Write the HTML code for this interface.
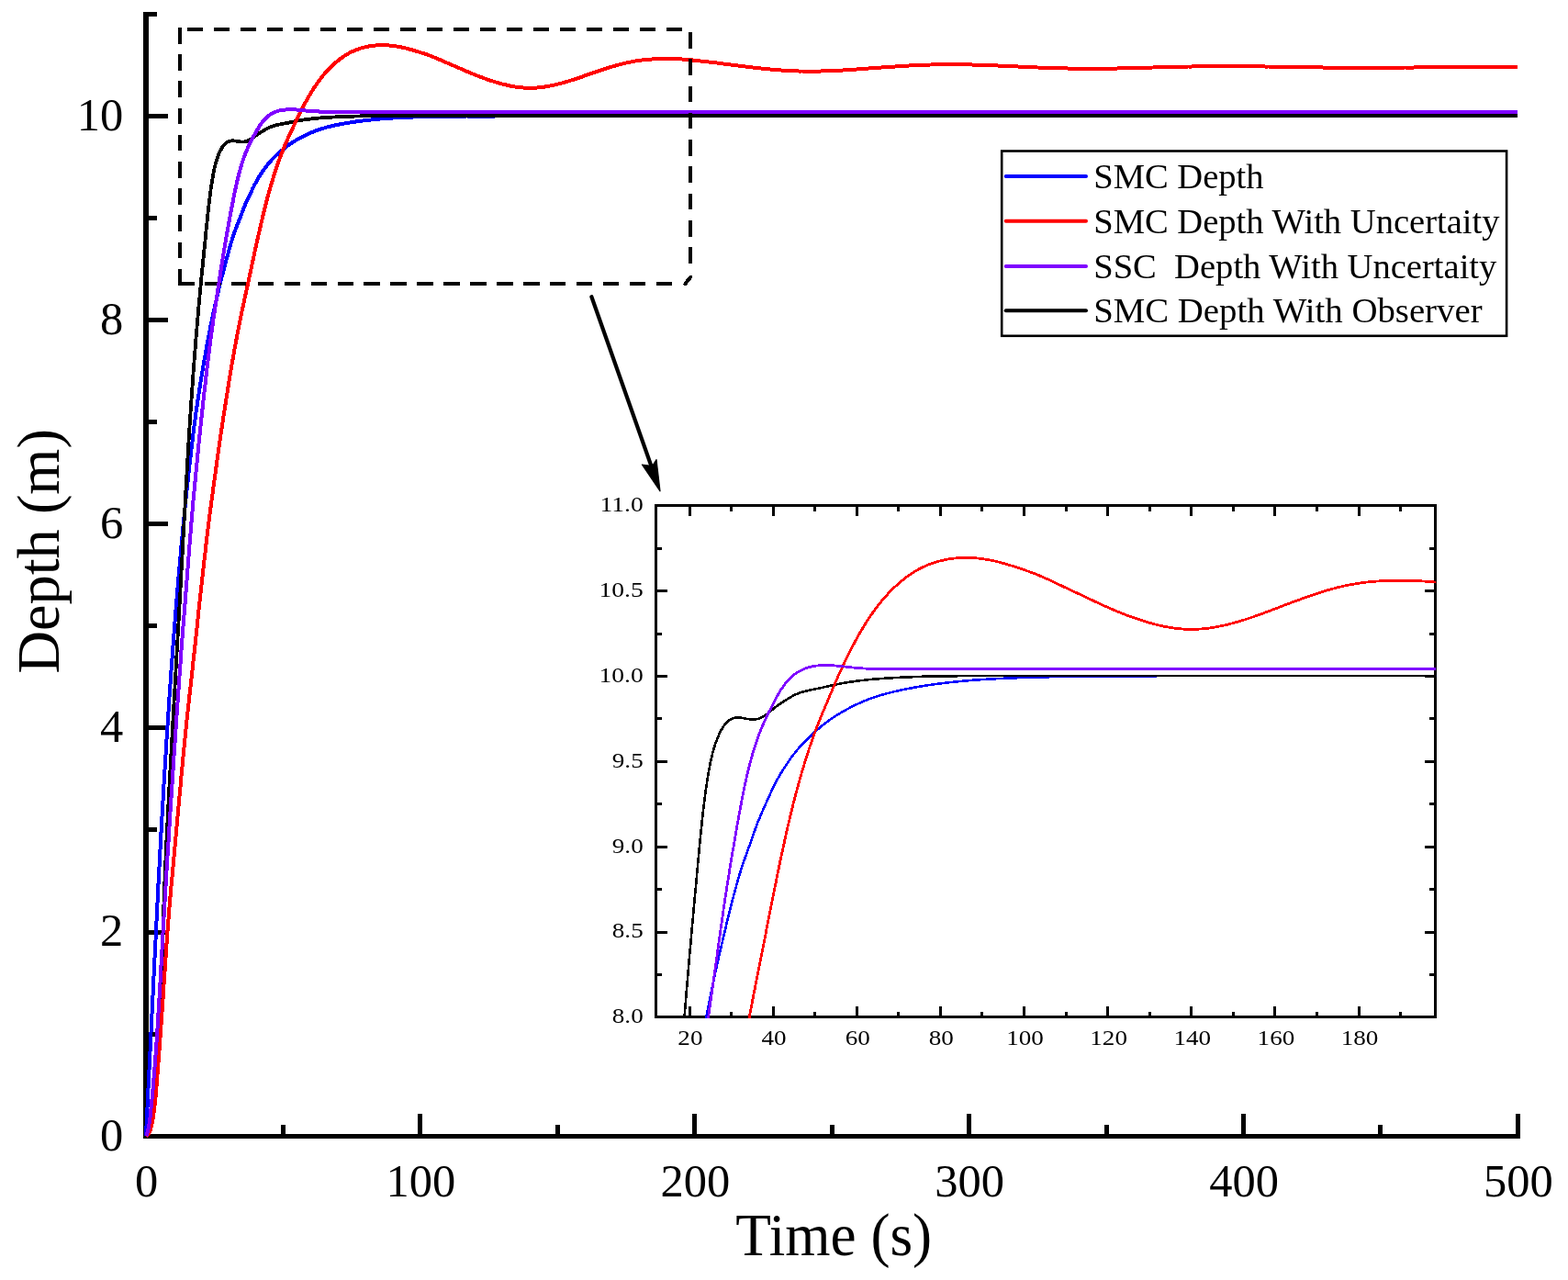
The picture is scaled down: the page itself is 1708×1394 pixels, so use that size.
<!DOCTYPE html>
<html lang="en"><head><meta charset="utf-8"><title>Depth tracking comparison</title>
<style>html,body{margin:0;padding:0;background:#fff}svg{display:block}text{font-family:"Liberation Serif",serif;fill:#000}</style></head><body>
<svg width="1708" height="1394" viewBox="0 0 1708 1394">
<rect width="1708" height="1394" fill="#fff"/>
<g stroke="#000" stroke-width="5" fill="none" stroke-linecap="butt" shape-rendering="crispEdges">
<path d="M159,13 V1240" stroke-width="6"/>
<path d="M156,1237.5 H1656"/>
<path d="M159,1126.5 h12 M159,1015.5 h24 M159,903.5 h12 M159,792.5 h24 M159,681.5 h12 M159,570.5 h24 M159,459.5 h12 M159,348.5 h24 M159,237.5 h12 M159,126.5 h24 M159,15.5 h12 M308.5,1237.5 v-12.5 M457.5,1237.5 v-24.5 M607.5,1237.5 v-12.5 M756.5,1237.5 v-24.5 M906.5,1237.5 v-12.5 M1055.5,1237.5 v-24.5 M1205.5,1237.5 v-12.5 M1354.5,1237.5 v-24.5 M1503.5,1237.5 v-12.5 M1653.5,1237.5 v-24.5"/>
</g>
<g font-size="50.5" text-anchor="end">
<text x="134.2" y="1252.6">0</text>
<text x="134.2" y="1030.4">2</text>
<text x="134.2" y="808.3">4</text>
<text x="134.2" y="586.1">6</text>
<text x="134.2" y="364.0">8</text>
<text x="134.2" y="141.8">10</text>
</g>
<g font-size="50.5" text-anchor="middle">
<text x="159.6" y="1303.3">0</text>
<text x="458.4" y="1303.3">100</text>
<text x="757.3" y="1303.3">200</text>
<text x="1056.1" y="1303.3">300</text>
<text x="1355.0" y="1303.3">400</text>
<text x="1653.8" y="1303.3">500</text>
</g>
<text id="xt" x="801.2" y="1367" font-size="66" textLength="214" lengthAdjust="spacingAndGlyphs">Time (s)</text>
<text id="yt" transform="translate(63.8,733.6) rotate(-90)" font-size="65" textLength="266.5" lengthAdjust="spacingAndGlyphs">Depth (m)</text>
<path fill="none" stroke-linejoin="round" shape-rendering="crispEdges" stroke="#0000ff" stroke-width="4" d="M159.0,1237.2 L159.7,1221.9 L160.5,1206.7 L161.2,1191.4 L162.0,1176.1 L162.7,1160.8 L163.5,1145.6 L164.2,1130.3 L165.0,1115.0 L165.7,1099.7 L166.5,1084.4 L167.2,1069.2 L168.0,1054.0 L168.7,1038.9 L169.5,1023.8 L170.2,1008.9 L171.0,994.1 L171.7,979.3 L172.4,964.7 L173.2,950.2 L173.9,936.0 L174.7,922.0 L175.4,908.3 L176.2,894.9 L176.9,881.7 L177.7,868.7 L178.4,855.9 L179.2,843.3 L179.9,831.0 L180.7,818.9 L181.4,806.9 L182.2,795.2 L182.9,783.7 L183.7,772.4 L184.4,761.3 L185.1,750.4 L185.9,739.6 L186.6,729.1 L187.4,718.7 L188.1,708.5 L188.9,698.5 L189.6,688.6 L190.4,679.0 L191.1,669.5 L191.9,660.1 L192.6,650.9 L193.4,641.9 L194.1,633.0 L194.9,624.3 L195.6,615.7 L196.4,607.3 L197.1,599.0 L197.8,590.9 L198.6,582.9 L199.3,575.0 L200.1,567.3 L200.8,559.7 L201.6,552.3 L202.3,544.9 L203.1,537.7 L203.8,530.7 L204.6,523.7 L205.3,516.9 L206.1,510.1 L206.8,503.5 L207.6,497.1 L208.3,490.7 L209.1,484.4 L209.8,478.2 L210.5,472.1 L211.3,466.1 L212.0,460.3 L212.8,454.7 L213.5,449.3 L214.3,444.0 L215.0,438.9 L215.8,433.8 L216.5,428.9 L217.3,424.0 L218.0,419.3 L218.8,414.7 L219.5,410.1 L220.3,405.6 L221.0,401.1 L221.8,396.7 L222.5,392.4 L223.3,388.1 L224.0,383.9 L224.7,379.7 L225.5,375.6 L226.2,371.6 L227.0,367.6 L227.7,363.7 L228.5,359.9 L229.2,356.1 L230.0,352.4 L230.7,348.8 L231.5,345.3 L232.2,341.8 L233.0,338.3 L233.7,334.9 L234.5,331.6 L235.2,328.3 L236.0,325.1 L236.7,321.9 L237.4,318.7 L238.2,315.6 L238.9,312.5 L239.7,309.5 L240.4,306.5 L241.2,303.5 L241.9,300.6 L242.7,297.7 L243.4,294.8 L244.2,292.0 L244.9,289.1 L245.7,286.3 L246.4,283.6 L247.2,280.8 L247.9,278.1 L248.7,275.4 L249.4,272.7 L250.1,270.1 L250.9,267.5 L251.6,264.9 L252.4,262.5 L253.1,260.0 L253.9,257.7 L254.6,255.4 L255.4,253.2 L256.1,251.0 L256.9,249.0 L257.6,247.0 L258.4,245.0 L259.1,243.2 L259.9,241.3 L260.6,239.4 L261.4,237.5 L262.1,235.6 L262.8,233.7 L263.6,231.7 L264.3,229.7 L265.1,227.8 L265.8,225.8 L266.6,224.0 L267.3,222.2 L268.1,220.4 L268.8,218.8 L269.6,217.1 L270.3,215.6 L271.1,214.0 L271.8,212.5 L272.6,210.9 L273.3,209.4 L274.1,207.9 L274.8,206.4 L275.5,204.9 L276.3,203.4 L277.0,201.9 L277.8,200.4 L278.5,199.0 L279.3,197.6 L280.0,196.2 L280.8,194.9 L281.5,193.6 L282.3,192.4 L283.0,191.2 L283.8,190.1 L284.5,189.0 L285.3,187.9 L286.0,186.8 L286.8,185.7 L287.5,184.7 L288.2,183.7 L289.0,182.6 L289.7,181.6 L290.5,180.7 L291.2,179.7 L292.0,178.8 L292.7,177.9 L293.5,177.0 L294.2,176.1 L295.0,175.3 L295.7,174.5 L296.5,173.6 L297.2,172.9 L298.0,172.1 L298.7,171.3 L299.5,170.6 L300.2,169.9 L300.9,169.2 L301.7,168.5 L302.4,167.8 L303.2,167.1 L303.9,166.5 L304.7,165.8 L305.4,165.2 L306.2,164.5 L306.9,163.9 L307.7,163.3 L308.4,162.6 L309.2,162.0 L309.9,161.4 L310.7,160.8 L311.4,160.2 L312.2,159.7 L312.9,159.1 L313.6,158.5 L314.4,158.0 L315.1,157.4 L315.9,156.9 L316.6,156.4 L317.4,155.9 L318.1,155.4 L318.9,154.9 L319.6,154.4 L320.4,153.9 L321.1,153.5 L321.9,153.0 L322.6,152.6 L323.4,152.1 L324.1,151.7 L324.9,151.3 L325.6,150.9 L326.4,150.5 L327.1,150.1 L327.8,149.7 L328.6,149.3 L329.3,148.9 L330.1,148.5 L330.8,148.2 L331.6,147.8 L332.3,147.4 L333.1,147.1 L333.8,146.7 L334.6,146.4 L335.3,146.0 L336.1,145.7 L336.8,145.3 L337.6,145.0 L338.3,144.7 L339.1,144.4 L339.8,144.1 L340.5,143.8 L341.3,143.5 L342.0,143.2 L342.8,142.9 L343.5,142.6 L344.3,142.3 L345.0,142.0 L345.8,141.8 L346.5,141.5 L347.3,141.2 L348.0,141.0 L348.8,140.7 L349.5,140.5 L350.3,140.3 L351.0,140.0 L351.8,139.8 L352.5,139.6 L353.2,139.4 L354.0,139.1 L354.7,138.9 L355.5,138.7 L356.2,138.5 L357.0,138.3 L357.7,138.1 L358.5,137.9 L359.2,137.8 L360.0,137.6 L360.7,137.4 L361.5,137.2 L362.2,137.0 L363.0,136.9 L363.7,136.7 L364.5,136.5 L365.2,136.4 L365.9,136.2 L366.7,136.1 L367.4,135.9 L368.2,135.8 L371.2,135.2 L374.2,134.6 L377.2,134.1 L380.1,133.6 L383.1,133.1 L386.1,132.7 L389.1,132.3 L392.1,131.9 L395.1,131.5 L398.1,131.1 L401.1,130.8 L404.0,130.5 L407.0,130.1 L410.0,129.9 L413.0,129.6 L416.0,129.3 L419.0,129.1 L422.0,128.9 L425.0,128.7 L428.0,128.5 L430.9,128.4 L433.9,128.2 L436.9,128.1 L439.9,127.9 L442.9,127.8 L445.9,127.7 L448.9,127.6 L451.9,127.4 L454.9,127.3 L457.8,127.2 L460.8,127.1 L463.8,127.1 L466.8,127.0 L469.8,126.9 L472.8,126.9 L475.8,126.8 L478.8,126.8 L481.7,126.7 L484.7,126.7 L487.7,126.7 L490.7,126.7 L493.7,126.6 L496.7,126.6 L499.7,126.6 L502.7,126.6 L505.7,126.6 L508.6,126.5 L511.6,126.5 L514.6,126.5 L517.6,126.5 L520.6,126.5 L523.6,126.5 L526.6,126.5 L529.6,126.5 L532.5,126.5 L535.5,126.5 L538.5,126.5 L541.5,126.4 L544.5,126.4 L547.5,126.4 L550.5,126.4 L553.5,126.4 L556.5,126.4 L559.4,126.4 L562.4,126.4 L565.4,126.4 L568.4,126.4 L571.4,126.4 L574.4,126.4 L577.4,126.4 L580.4,126.4 L583.4,126.4 L586.3,126.4 L589.3,126.4 L592.3,126.4 L595.3,126.4 L598.3,126.4 L601.3,126.4 L604.3,126.4 L607.3,126.4 L610.2,126.4 L613.2,126.4 L616.2,126.4 L619.2,126.4 L622.2,126.4 L625.2,126.4 L628.2,126.4 L631.2,126.4 L634.2,126.4 L637.1,126.4 L640.1,126.4 L643.1,126.4 L646.1,126.4 L649.1,126.4 L652.1,126.4 L655.1,126.4 L658.1,126.4 L661.1,126.4 L664.0,126.4 L667.0,126.4 L670.0,126.4 L673.0,126.4 L676.0,126.4 L679.0,126.4 L682.0,126.4 L685.0,126.4 L687.9,126.4 L690.9,126.4 L693.9,126.4 L696.9,126.4 L699.9,126.4 L702.9,126.4 L705.9,126.4 L708.9,126.4 L711.9,126.4 L714.8,126.4 L717.8,126.4 L720.8,126.4 L723.8,126.4 L726.8,126.4 L729.8,126.4 L732.8,126.4 L735.8,126.4 L738.7,126.4 L741.7,126.4 L744.7,126.4 L747.7,126.4 L750.7,126.4 L753.7,126.4 L756.7,126.4 L759.7,126.4 L762.7,126.4 L765.6,126.4 L768.6,126.4 L771.6,126.4 L774.6,126.4 L777.6,126.4 L780.6,126.4 L783.6,126.4 L786.6,126.4 L789.6,126.4 L792.5,126.4 L795.5,126.4 L798.5,126.4 L801.5,126.4 L804.5,126.4 L807.5,126.4 L810.5,126.4 L813.5,126.4 L816.4,126.4 L819.4,126.4 L822.4,126.4 L825.4,126.4 L828.4,126.4 L831.4,126.4 L834.4,126.4 L837.4,126.4 L840.4,126.4 L843.3,126.4 L846.3,126.4 L849.3,126.4 L852.3,126.4 L855.3,126.4 L858.3,126.4 L861.3,126.4 L864.3,126.4 L867.3,126.4 L870.2,126.4 L873.2,126.4 L876.2,126.4 L879.2,126.4 L882.2,126.4 L885.2,126.4 L888.2,126.4 L891.2,126.4 L894.1,126.4 L897.1,126.4 L900.1,126.4 L903.1,126.4 L906.1,126.4 L909.1,126.4 L912.1,126.4 L915.1,126.4 L918.1,126.4 L921.0,126.4 L924.0,126.4 L927.0,126.4 L930.0,126.4 L933.0,126.4 L936.0,126.4 L939.0,126.4 L942.0,126.4 L944.9,126.4 L947.9,126.4 L950.9,126.4 L953.9,126.4 L956.9,126.4 L959.9,126.4 L962.9,126.4 L965.9,126.4 L968.9,126.4 L971.8,126.4 L974.8,126.4 L977.8,126.4 L980.8,126.4 L983.8,126.4 L986.8,126.4 L989.8,126.4 L992.8,126.4 L995.8,126.4 L998.7,126.4 L1001.7,126.4 L1004.7,126.4 L1007.7,126.4 L1010.7,126.4 L1013.7,126.4 L1016.7,126.4 L1019.7,126.4 L1022.6,126.4 L1025.6,126.4 L1028.6,126.4 L1031.6,126.4 L1034.6,126.4 L1037.6,126.4 L1040.6,126.4 L1043.6,126.4 L1046.6,126.4 L1049.5,126.4 L1052.5,126.4 L1055.5,126.4 L1058.5,126.4 L1061.5,126.4 L1064.5,126.4 L1067.5,126.4 L1070.5,126.4 L1073.5,126.4 L1076.4,126.4 L1079.4,126.4 L1082.4,126.4 L1085.4,126.4 L1088.4,126.4 L1091.4,126.4 L1094.4,126.4 L1097.4,126.4 L1100.3,126.4 L1103.3,126.4 L1106.3,126.4 L1109.3,126.4 L1112.3,126.4 L1115.3,126.4 L1118.3,126.4 L1121.3,126.4 L1124.3,126.4 L1127.2,126.4 L1130.2,126.4 L1133.2,126.4 L1136.2,126.4 L1139.2,126.4 L1142.2,126.4 L1145.2,126.4 L1148.2,126.4 L1151.1,126.4 L1154.1,126.4 L1157.1,126.4 L1160.1,126.4 L1163.1,126.4 L1166.1,126.4 L1169.1,126.4 L1172.1,126.4 L1175.1,126.4 L1178.0,126.4 L1181.0,126.4 L1184.0,126.4 L1187.0,126.4 L1190.0,126.4 L1193.0,126.4 L1196.0,126.4 L1199.0,126.4 L1202.0,126.4 L1204.9,126.4 L1207.9,126.4 L1210.9,126.4 L1213.9,126.4 L1216.9,126.4 L1219.9,126.4 L1222.9,126.4 L1225.9,126.4 L1228.8,126.4 L1231.8,126.4 L1234.8,126.4 L1237.8,126.4 L1240.8,126.4 L1243.8,126.4 L1246.8,126.4 L1249.8,126.4 L1252.8,126.4 L1255.7,126.4 L1258.7,126.4 L1261.7,126.4 L1264.7,126.4 L1267.7,126.4 L1270.7,126.4 L1273.7,126.4 L1276.7,126.4 L1279.7,126.4 L1282.6,126.4 L1285.6,126.4 L1288.6,126.4 L1291.6,126.4 L1294.6,126.4 L1297.6,126.4 L1300.6,126.4 L1303.6,126.4 L1306.5,126.4 L1309.5,126.4 L1312.5,126.4 L1315.5,126.4 L1318.5,126.4 L1321.5,126.4 L1324.5,126.4 L1327.5,126.4 L1330.5,126.4 L1333.4,126.4 L1336.4,126.4 L1339.4,126.4 L1342.4,126.4 L1345.4,126.4 L1348.4,126.4 L1351.4,126.4 L1354.4,126.4 L1357.3,126.4 L1360.3,126.4 L1363.3,126.4 L1366.3,126.4 L1369.3,126.4 L1372.3,126.4 L1375.3,126.4 L1378.3,126.4 L1381.3,126.4 L1384.2,126.4 L1387.2,126.4 L1390.2,126.4 L1393.2,126.4 L1396.2,126.4 L1399.2,126.4 L1402.2,126.4 L1405.2,126.4 L1408.2,126.4 L1411.1,126.4 L1414.1,126.4 L1417.1,126.4 L1420.1,126.4 L1423.1,126.4 L1426.1,126.4 L1429.1,126.4 L1432.1,126.4 L1435.0,126.4 L1438.0,126.4 L1441.0,126.4 L1444.0,126.4 L1447.0,126.4 L1450.0,126.4 L1453.0,126.4 L1456.0,126.4 L1459.0,126.4 L1461.9,126.4 L1464.9,126.4 L1467.9,126.4 L1470.9,126.4 L1473.9,126.4 L1476.9,126.4 L1479.9,126.4 L1482.9,126.4 L1485.8,126.4 L1488.8,126.4 L1491.8,126.4 L1494.8,126.4 L1497.8,126.4 L1500.8,126.4 L1503.8,126.4 L1506.8,126.4 L1509.8,126.4 L1512.7,126.4 L1515.7,126.4 L1518.7,126.4 L1521.7,126.4 L1524.7,126.4 L1527.7,126.4 L1530.7,126.4 L1533.7,126.4 L1536.7,126.4 L1539.6,126.4 L1542.6,126.4 L1545.6,126.4 L1548.6,126.4 L1551.6,126.4 L1554.6,126.4 L1557.6,126.4 L1560.6,126.4 L1563.5,126.4 L1566.5,126.4 L1569.5,126.4 L1572.5,126.4 L1575.5,126.4 L1578.5,126.4 L1581.5,126.4 L1584.5,126.4 L1587.5,126.4 L1590.4,126.4 L1593.4,126.4 L1596.4,126.4 L1599.4,126.4 L1602.4,126.4 L1605.4,126.4 L1608.4,126.4 L1611.4,126.4 L1614.4,126.4 L1617.3,126.4 L1620.3,126.4 L1623.3,126.4 L1626.3,126.4 L1629.3,126.4 L1632.3,126.4 L1635.3,126.4 L1638.3,126.4 L1641.2,126.4 L1644.2,126.4 L1647.2,126.4 L1650.2,126.4 L1653.2,126.4"/>
<g stroke="#000" stroke-width="4" fill="none" shape-rendering="crispEdges">
<path d="M196,30 V311" stroke-dasharray="17.6 11.6"/>
<path d="M194,309 H733" stroke-dasharray="17.6 11.32"/>
</g>
<path fill="none" stroke-linejoin="round" shape-rendering="crispEdges" stroke="#000000" stroke-width="3.8" d="M159.0,1237.2 L159.7,1236.6 L160.5,1235.8 L161.2,1234.6 L162.0,1233.0 L162.7,1231.1 L163.5,1228.9 L164.2,1226.2 L165.0,1222.8 L165.7,1218.5 L166.5,1213.3 L167.2,1207.0 L168.0,1199.1 L168.7,1189.4 L169.5,1178.2 L170.2,1166.3 L171.0,1155.0 L171.7,1144.7 L172.4,1135.0 L173.2,1125.1 L173.9,1113.3 L174.7,1098.3 L175.4,1079.3 L176.2,1056.5 L176.9,1031.9 L177.7,1007.4 L178.4,985.1 L179.2,965.2 L179.9,947.4 L180.7,930.8 L181.4,915.0 L182.2,899.9 L182.9,885.3 L183.7,871.2 L184.4,857.5 L185.1,843.9 L185.9,830.5 L186.6,817.1 L187.4,803.7 L188.1,790.2 L188.9,776.7 L189.6,763.3 L190.4,750.0 L191.1,736.8 L191.9,723.7 L192.6,710.5 L193.4,697.4 L194.1,684.3 L194.9,671.2 L195.6,658.0 L196.4,644.8 L197.1,631.4 L197.8,617.8 L198.6,604.2 L199.3,590.5 L200.1,576.8 L200.8,563.2 L201.6,549.5 L202.3,536.0 L203.1,522.6 L203.8,509.4 L204.6,496.5 L205.3,484.0 L206.1,471.7 L206.8,460.0 L207.6,448.6 L208.3,437.7 L209.1,427.0 L209.8,416.7 L210.5,406.5 L211.3,396.7 L212.0,387.0 L212.8,377.6 L213.5,368.3 L214.3,359.3 L215.0,350.4 L215.8,341.7 L216.5,333.2 L217.3,324.9 L218.0,316.8 L218.8,309.2 L219.5,301.4 L220.3,293.8 L221.0,286.3 L221.8,278.8 L222.5,271.4 L223.3,263.9 L224.0,256.5 L224.7,249.1 L225.5,241.8 L226.2,234.7 L227.0,227.7 L227.7,221.1 L228.5,214.9 L229.2,209.1 L230.0,203.7 L230.7,198.7 L231.5,194.2 L232.2,190.0 L233.0,186.2 L233.7,182.8 L234.5,179.6 L235.2,176.8 L236.0,174.3 L236.7,172.1 L237.4,170.0 L238.2,168.2 L238.9,166.4 L239.7,164.8 L240.4,163.4 L241.2,162.0 L241.9,160.7 L242.7,159.6 L243.4,158.6 L244.2,157.7 L244.9,156.9 L245.7,156.2 L246.4,155.5 L247.2,155.0 L247.9,154.6 L248.7,154.2 L249.4,153.9 L250.1,153.7 L250.9,153.5 L251.6,153.4 L252.4,153.4 L253.1,153.3 L253.9,153.3 L254.6,153.4 L255.4,153.5 L256.1,153.5 L256.9,153.6 L257.6,153.8 L258.4,153.9 L259.1,154.0 L259.9,154.1 L260.6,154.3 L261.4,154.3 L262.1,154.4 L262.8,154.5 L263.6,154.5 L264.3,154.5 L265.1,154.5 L265.8,154.4 L266.6,154.4 L267.3,154.2 L268.1,154.1 L268.8,153.8 L269.6,153.6 L270.3,153.2 L271.1,152.9 L271.8,152.5 L272.6,152.0 L273.3,151.5 L274.1,151.0 L274.8,150.5 L275.5,149.9 L276.3,149.4 L277.0,148.8 L277.8,148.3 L278.5,147.7 L279.3,147.2 L280.0,146.7 L280.8,146.1 L281.5,145.6 L282.3,145.1 L283.0,144.7 L283.8,144.2 L284.5,143.8 L285.3,143.3 L286.0,142.9 L286.8,142.4 L287.5,142.0 L288.2,141.5 L289.0,141.1 L289.7,140.7 L290.5,140.3 L291.2,139.9 L292.0,139.5 L292.7,139.1 L293.5,138.8 L294.2,138.4 L295.0,138.1 L295.7,137.8 L296.5,137.5 L297.2,137.3 L298.0,137.0 L298.7,136.8 L299.5,136.6 L300.2,136.4 L300.9,136.3 L301.7,136.1 L302.4,135.9 L303.2,135.8 L303.9,135.6 L304.7,135.5 L305.4,135.3 L306.2,135.2 L306.9,135.1 L307.7,134.9 L308.4,134.8 L309.2,134.6 L309.9,134.5 L310.7,134.4 L311.4,134.2 L312.2,134.1 L312.9,133.9 L313.6,133.8 L314.4,133.6 L315.1,133.5 L315.9,133.3 L316.6,133.1 L317.4,133.0 L318.1,132.8 L318.9,132.7 L319.6,132.5 L320.4,132.4 L321.1,132.2 L321.9,132.0 L322.6,131.9 L323.4,131.8 L324.1,131.6 L324.9,131.5 L325.6,131.3 L326.4,131.3 L327.1,131.1 L327.8,131.0 L328.6,130.9 L329.3,130.8 L330.1,130.6 L330.8,130.5 L331.6,130.4 L332.3,130.3 L333.1,130.2 L333.8,130.1 L334.6,130.0 L335.3,129.9 L336.1,129.8 L336.8,129.7 L337.6,129.6 L338.3,129.5 L339.1,129.4 L339.8,129.3 L340.5,129.3 L341.3,129.2 L342.0,129.1 L342.8,129.0 L343.5,128.9 L344.3,128.9 L345.0,128.8 L345.8,128.7 L346.5,128.6 L347.3,128.6 L348.0,128.5 L348.8,128.5 L349.5,128.4 L350.3,128.3 L351.0,128.3 L351.8,128.2 L352.5,128.1 L353.2,128.1 L354.0,128.0 L354.7,128.0 L355.5,127.9 L356.2,127.9 L357.0,127.8 L357.7,127.8 L358.5,127.7 L359.2,127.7 L360.0,127.7 L360.7,127.6 L361.5,127.6 L362.2,127.5 L363.0,127.5 L363.7,127.4 L364.5,127.4 L365.2,127.4 L365.9,127.3 L366.7,127.3 L367.4,127.3 L368.2,127.2 L371.2,127.1 L374.2,127.0 L377.2,126.9 L380.1,126.8 L383.1,126.7 L386.1,126.6 L389.1,126.5 L392.1,126.4 L395.1,126.3 L398.1,126.3 L401.1,126.2 L404.0,126.2 L407.0,126.1 L410.0,126.1 L413.0,126.1 L416.0,126.0 L419.0,126.0 L422.0,125.9 L425.0,125.9 L428.0,125.9 L430.9,125.8 L433.9,125.8 L436.9,125.8 L439.9,125.8 L442.9,125.8 L445.9,125.7 L448.9,125.7 L451.9,125.7 L454.9,125.7 L457.8,125.7 L460.8,125.7 L463.8,125.7 L466.8,125.7 L469.8,125.7 L472.8,125.7 L475.8,125.7 L478.8,125.7 L481.7,125.7 L484.7,125.7 L487.7,125.7 L490.7,125.7 L493.7,125.7 L496.7,125.7 L499.7,125.7 L502.7,125.7 L505.7,125.7 L508.6,125.7 L511.6,125.7 L514.6,125.7 L517.6,125.7 L520.6,125.7 L523.6,125.7 L526.6,125.7 L529.6,125.7 L532.5,125.7 L535.5,125.7 L538.5,125.7 L541.5,125.7 L544.5,125.7 L547.5,125.7 L550.5,125.7 L553.5,125.7 L556.5,125.7 L559.4,125.7 L562.4,125.7 L565.4,125.7 L568.4,125.7 L571.4,125.7 L574.4,125.7 L577.4,125.7 L580.4,125.7 L583.4,125.7 L586.3,125.7 L589.3,125.7 L592.3,125.7 L595.3,125.7 L598.3,125.7 L601.3,125.7 L604.3,125.7 L607.3,125.7 L610.2,125.7 L613.2,125.7 L616.2,125.7 L619.2,125.7 L622.2,125.7 L625.2,125.7 L628.2,125.7 L631.2,125.7 L634.2,125.7 L637.1,125.7 L640.1,125.7 L643.1,125.7 L646.1,125.7 L649.1,125.7 L652.1,125.7 L655.1,125.7 L658.1,125.7 L661.1,125.7 L664.0,125.7 L667.0,125.7 L670.0,125.7 L673.0,125.7 L676.0,125.7 L679.0,125.7 L682.0,125.7 L685.0,125.7 L687.9,125.7 L690.9,125.7 L693.9,125.7 L696.9,125.7 L699.9,125.7 L702.9,125.7 L705.9,125.7 L708.9,125.7 L711.9,125.7 L714.8,125.7 L717.8,125.7 L720.8,125.7 L723.8,125.7 L726.8,125.7 L729.8,125.7 L732.8,125.7 L735.8,125.7 L738.7,125.7 L741.7,125.7 L744.7,125.7 L747.7,125.7 L750.7,125.7 L753.7,125.7 L756.7,125.7 L759.7,125.7 L762.7,125.7 L765.6,125.7 L768.6,125.7 L771.6,125.7 L774.6,125.7 L777.6,125.7 L780.6,125.7 L783.6,125.7 L786.6,125.7 L789.6,125.7 L792.5,125.7 L795.5,125.7 L798.5,125.7 L801.5,125.7 L804.5,125.7 L807.5,125.7 L810.5,125.7 L813.5,125.7 L816.4,125.7 L819.4,125.7 L822.4,125.7 L825.4,125.7 L828.4,125.7 L831.4,125.7 L834.4,125.7 L837.4,125.7 L840.4,125.7 L843.3,125.7 L846.3,125.7 L849.3,125.7 L852.3,125.7 L855.3,125.7 L858.3,125.7 L861.3,125.7 L864.3,125.7 L867.3,125.7 L870.2,125.7 L873.2,125.7 L876.2,125.7 L879.2,125.7 L882.2,125.7 L885.2,125.7 L888.2,125.7 L891.2,125.7 L894.1,125.7 L897.1,125.7 L900.1,125.7 L903.1,125.7 L906.1,125.7 L909.1,125.7 L912.1,125.7 L915.1,125.7 L918.1,125.7 L921.0,125.7 L924.0,125.7 L927.0,125.7 L930.0,125.7 L933.0,125.7 L936.0,125.7 L939.0,125.7 L942.0,125.7 L944.9,125.7 L947.9,125.7 L950.9,125.7 L953.9,125.7 L956.9,125.7 L959.9,125.7 L962.9,125.7 L965.9,125.7 L968.9,125.7 L971.8,125.7 L974.8,125.7 L977.8,125.7 L980.8,125.7 L983.8,125.7 L986.8,125.7 L989.8,125.7 L992.8,125.7 L995.8,125.7 L998.7,125.7 L1001.7,125.7 L1004.7,125.7 L1007.7,125.7 L1010.7,125.7 L1013.7,125.7 L1016.7,125.7 L1019.7,125.7 L1022.6,125.7 L1025.6,125.7 L1028.6,125.7 L1031.6,125.7 L1034.6,125.7 L1037.6,125.7 L1040.6,125.7 L1043.6,125.7 L1046.6,125.7 L1049.5,125.7 L1052.5,125.7 L1055.5,125.7 L1058.5,125.7 L1061.5,125.7 L1064.5,125.7 L1067.5,125.7 L1070.5,125.7 L1073.5,125.7 L1076.4,125.7 L1079.4,125.7 L1082.4,125.7 L1085.4,125.7 L1088.4,125.7 L1091.4,125.7 L1094.4,125.7 L1097.4,125.7 L1100.3,125.7 L1103.3,125.7 L1106.3,125.7 L1109.3,125.7 L1112.3,125.7 L1115.3,125.7 L1118.3,125.7 L1121.3,125.7 L1124.3,125.7 L1127.2,125.7 L1130.2,125.7 L1133.2,125.7 L1136.2,125.7 L1139.2,125.7 L1142.2,125.7 L1145.2,125.7 L1148.2,125.7 L1151.1,125.7 L1154.1,125.7 L1157.1,125.7 L1160.1,125.7 L1163.1,125.7 L1166.1,125.7 L1169.1,125.7 L1172.1,125.7 L1175.1,125.7 L1178.0,125.7 L1181.0,125.7 L1184.0,125.7 L1187.0,125.7 L1190.0,125.7 L1193.0,125.7 L1196.0,125.7 L1199.0,125.7 L1202.0,125.7 L1204.9,125.7 L1207.9,125.7 L1210.9,125.7 L1213.9,125.7 L1216.9,125.7 L1219.9,125.7 L1222.9,125.7 L1225.9,125.7 L1228.8,125.7 L1231.8,125.7 L1234.8,125.7 L1237.8,125.7 L1240.8,125.7 L1243.8,125.7 L1246.8,125.7 L1249.8,125.7 L1252.8,125.7 L1255.7,125.7 L1258.7,125.7 L1261.7,125.7 L1264.7,125.7 L1267.7,125.7 L1270.7,125.7 L1273.7,125.7 L1276.7,125.7 L1279.7,125.7 L1282.6,125.7 L1285.6,125.7 L1288.6,125.7 L1291.6,125.7 L1294.6,125.7 L1297.6,125.7 L1300.6,125.7 L1303.6,125.7 L1306.5,125.7 L1309.5,125.7 L1312.5,125.7 L1315.5,125.7 L1318.5,125.7 L1321.5,125.7 L1324.5,125.7 L1327.5,125.7 L1330.5,125.7 L1333.4,125.7 L1336.4,125.7 L1339.4,125.7 L1342.4,125.7 L1345.4,125.7 L1348.4,125.7 L1351.4,125.7 L1354.4,125.7 L1357.3,125.7 L1360.3,125.7 L1363.3,125.7 L1366.3,125.7 L1369.3,125.7 L1372.3,125.7 L1375.3,125.7 L1378.3,125.7 L1381.3,125.7 L1384.2,125.7 L1387.2,125.7 L1390.2,125.7 L1393.2,125.7 L1396.2,125.7 L1399.2,125.7 L1402.2,125.7 L1405.2,125.7 L1408.2,125.7 L1411.1,125.7 L1414.1,125.7 L1417.1,125.7 L1420.1,125.7 L1423.1,125.7 L1426.1,125.7 L1429.1,125.7 L1432.1,125.7 L1435.0,125.7 L1438.0,125.7 L1441.0,125.7 L1444.0,125.7 L1447.0,125.7 L1450.0,125.7 L1453.0,125.7 L1456.0,125.7 L1459.0,125.7 L1461.9,125.7 L1464.9,125.7 L1467.9,125.7 L1470.9,125.7 L1473.9,125.7 L1476.9,125.7 L1479.9,125.7 L1482.9,125.7 L1485.8,125.7 L1488.8,125.7 L1491.8,125.7 L1494.8,125.7 L1497.8,125.7 L1500.8,125.7 L1503.8,125.7 L1506.8,125.7 L1509.8,125.7 L1512.7,125.7 L1515.7,125.7 L1518.7,125.7 L1521.7,125.7 L1524.7,125.7 L1527.7,125.7 L1530.7,125.7 L1533.7,125.7 L1536.7,125.7 L1539.6,125.7 L1542.6,125.7 L1545.6,125.7 L1548.6,125.7 L1551.6,125.7 L1554.6,125.7 L1557.6,125.7 L1560.6,125.7 L1563.5,125.7 L1566.5,125.7 L1569.5,125.7 L1572.5,125.7 L1575.5,125.7 L1578.5,125.7 L1581.5,125.7 L1584.5,125.7 L1587.5,125.7 L1590.4,125.7 L1593.4,125.7 L1596.4,125.7 L1599.4,125.7 L1602.4,125.7 L1605.4,125.7 L1608.4,125.7 L1611.4,125.7 L1614.4,125.7 L1617.3,125.7 L1620.3,125.7 L1623.3,125.7 L1626.3,125.7 L1629.3,125.7 L1632.3,125.7 L1635.3,125.7 L1638.3,125.7 L1641.2,125.7 L1644.2,125.7 L1647.2,125.7 L1650.2,125.7 L1653.2,125.7"/>
<path fill="none" stroke-linejoin="round" shape-rendering="crispEdges" stroke="#ff0000" stroke-width="4" d="M159.0,1237.2 L159.7,1236.8 L160.5,1236.2 L161.2,1235.4 L162.0,1234.3 L162.7,1233.0 L163.5,1231.3 L164.2,1229.2 L165.0,1226.4 L165.7,1222.9 L166.5,1218.8 L167.2,1214.1 L168.0,1208.8 L168.7,1202.6 L169.5,1195.3 L170.2,1186.9 L171.0,1177.5 L171.7,1167.8 L172.4,1157.9 L173.2,1148.0 L173.9,1138.0 L174.7,1127.9 L175.4,1117.5 L176.2,1107.0 L176.9,1096.2 L177.7,1085.2 L178.4,1074.0 L179.2,1062.7 L179.9,1051.3 L180.7,1040.0 L181.4,1029.0 L182.2,1018.3 L182.9,1008.2 L183.7,998.5 L184.4,989.4 L185.1,980.7 L185.9,972.4 L186.6,964.2 L187.4,956.1 L188.1,948.1 L188.9,940.0 L189.6,931.8 L190.4,923.6 L191.1,915.4 L191.9,907.2 L192.6,898.9 L193.4,890.7 L194.1,882.5 L194.9,874.3 L195.6,866.2 L196.4,858.1 L197.1,850.0 L197.8,842.1 L198.6,834.1 L199.3,826.3 L200.1,818.6 L200.8,810.9 L201.6,803.3 L202.3,795.9 L203.1,788.6 L203.8,781.4 L204.6,774.4 L205.3,767.5 L206.1,760.6 L206.8,753.9 L207.6,747.2 L208.3,740.5 L209.1,733.8 L209.8,727.1 L210.5,720.4 L211.3,713.7 L212.0,706.9 L212.8,699.9 L213.5,692.9 L214.3,685.9 L215.0,678.7 L215.8,671.6 L216.5,664.5 L217.3,657.4 L218.0,650.5 L218.8,643.7 L219.5,636.9 L220.3,630.1 L221.0,623.4 L221.8,616.8 L222.5,610.2 L223.3,603.7 L224.0,597.2 L224.7,590.9 L225.5,584.6 L226.2,578.4 L227.0,572.4 L227.7,566.4 L228.5,560.5 L229.2,554.7 L230.0,549.0 L230.7,543.4 L231.5,537.8 L232.2,532.3 L233.0,526.8 L233.7,521.4 L234.5,516.0 L235.2,510.7 L236.0,505.3 L236.7,500.0 L237.4,494.8 L238.2,489.5 L238.9,484.3 L239.7,479.1 L240.4,474.0 L241.2,468.9 L241.9,463.8 L242.7,458.8 L243.4,453.9 L244.2,449.0 L244.9,444.1 L245.7,439.3 L246.4,434.5 L247.2,429.8 L247.9,425.1 L248.7,420.4 L249.4,415.8 L250.1,411.3 L250.9,406.8 L251.6,402.4 L252.4,398.0 L253.1,393.7 L253.9,389.5 L254.6,385.2 L255.4,381.1 L256.1,376.9 L256.9,372.9 L257.6,368.9 L258.4,364.9 L259.1,361.0 L259.9,357.1 L260.6,353.3 L261.4,349.6 L262.1,345.9 L262.8,342.3 L263.6,338.7 L264.3,335.2 L265.1,331.8 L265.8,328.3 L266.6,324.9 L267.3,321.5 L268.1,318.1 L268.8,314.7 L269.6,311.2 L270.3,307.7 L271.1,304.3 L271.8,300.8 L272.6,297.3 L273.3,293.8 L274.1,290.3 L274.8,286.8 L275.5,283.4 L276.3,279.9 L277.0,276.5 L277.8,273.0 L278.5,269.6 L279.3,266.2 L280.0,262.9 L280.8,259.5 L281.5,256.1 L282.3,252.8 L283.0,249.5 L283.8,246.3 L284.5,243.1 L285.3,239.9 L286.0,236.8 L286.8,233.6 L287.5,230.5 L288.2,227.5 L289.0,224.5 L289.7,221.5 L290.5,218.6 L291.2,215.8 L292.0,213.0 L292.7,210.3 L293.5,207.6 L294.2,204.9 L295.0,202.3 L295.7,199.8 L296.5,197.3 L297.2,194.8 L298.0,192.4 L298.7,190.1 L299.5,187.7 L300.2,185.4 L300.9,183.2 L301.7,181.0 L302.4,178.8 L303.2,176.7 L303.9,174.6 L304.7,172.5 L305.4,170.5 L306.2,168.5 L306.9,166.6 L307.7,164.7 L308.4,162.8 L309.2,161.0 L309.9,159.3 L310.7,157.5 L311.4,155.8 L312.2,154.1 L312.9,152.4 L313.6,150.8 L314.4,149.1 L315.1,147.5 L315.9,145.9 L316.6,144.3 L317.4,142.7 L318.1,141.1 L318.9,139.4 L319.6,137.8 L320.4,136.2 L321.1,134.6 L321.9,133.0 L322.6,131.4 L323.4,129.8 L324.1,128.3 L324.9,126.7 L325.6,125.2 L326.4,123.8 L327.1,122.3 L327.8,120.8 L328.6,119.3 L329.3,117.9 L330.1,116.4 L330.8,115.0 L331.6,113.6 L332.3,112.2 L333.1,110.8 L333.8,109.5 L334.6,108.2 L335.3,106.8 L336.1,105.5 L336.8,104.3 L337.6,103.0 L338.3,101.8 L339.1,100.5 L339.8,99.3 L340.5,98.1 L341.3,97.0 L342.0,95.8 L342.8,94.7 L343.5,93.6 L344.3,92.5 L345.0,91.4 L345.8,90.3 L346.5,89.3 L347.3,88.2 L348.0,87.2 L348.8,86.2 L349.5,85.2 L350.3,84.3 L351.0,83.3 L351.8,82.4 L352.5,81.5 L353.2,80.6 L354.0,79.7 L354.7,78.9 L355.5,78.0 L356.2,77.2 L357.0,76.4 L357.7,75.6 L358.5,74.8 L359.2,74.1 L360.0,73.3 L360.7,72.6 L361.5,71.9 L362.2,71.1 L363.0,70.5 L363.7,69.8 L364.5,69.1 L365.2,68.5 L365.9,67.8 L366.7,67.2 L367.4,66.6 L368.2,66.0 L371.2,63.7 L374.2,61.6 L377.2,59.7 L380.1,57.9 L383.1,56.4 L386.1,55.1 L389.1,53.9 L392.1,52.8 L395.1,52.0 L398.1,51.2 L401.1,50.6 L404.0,50.1 L407.0,49.7 L410.0,49.4 L413.0,49.2 L416.0,49.1 L419.0,49.2 L422.0,49.3 L425.0,49.6 L428.0,49.9 L430.9,50.3 L433.9,50.8 L436.9,51.4 L439.9,52.0 L442.9,52.8 L445.9,53.6 L448.9,54.4 L451.9,55.3 L454.9,56.2 L457.8,57.1 L460.8,58.0 L463.8,59.0 L466.8,60.1 L469.8,61.2 L472.8,62.4 L475.8,63.6 L478.8,64.9 L481.7,66.2 L484.7,67.5 L487.7,68.8 L490.7,70.1 L493.7,71.4 L496.7,72.6 L499.7,73.9 L502.7,75.2 L505.7,76.5 L508.6,77.8 L511.6,79.1 L514.6,80.3 L517.6,81.5 L520.6,82.7 L523.6,83.9 L526.6,85.0 L529.6,86.1 L532.5,87.1 L535.5,88.1 L538.5,89.0 L541.5,89.9 L544.5,90.8 L547.5,91.6 L550.5,92.3 L553.5,93.0 L556.5,93.7 L559.4,94.2 L562.4,94.7 L565.4,95.1 L568.4,95.4 L571.4,95.6 L574.4,95.8 L577.4,95.8 L580.4,95.8 L583.4,95.6 L586.3,95.4 L589.3,95.1 L592.3,94.7 L595.3,94.2 L598.3,93.7 L601.3,93.1 L604.3,92.4 L607.3,91.7 L610.2,91.0 L613.2,90.2 L616.2,89.3 L619.2,88.4 L622.2,87.5 L625.2,86.5 L628.2,85.5 L631.2,84.5 L634.2,83.5 L637.1,82.4 L640.1,81.4 L643.1,80.4 L646.1,79.3 L649.1,78.3 L652.1,77.3 L655.1,76.3 L658.1,75.3 L661.1,74.3 L664.0,73.4 L667.0,72.5 L670.0,71.6 L673.0,70.8 L676.0,70.0 L679.0,69.2 L682.0,68.5 L685.0,67.9 L687.9,67.3 L690.9,66.7 L693.9,66.2 L696.9,65.8 L699.9,65.4 L702.9,65.1 L705.9,64.8 L708.9,64.6 L711.9,64.4 L714.8,64.2 L717.8,64.1 L720.8,64.1 L723.8,64.0 L726.8,64.0 L729.8,64.1 L732.8,64.1 L735.8,64.2 L738.7,64.3 L741.7,64.4 L744.7,64.6 L747.7,64.8 L750.7,65.0 L753.7,65.3 L756.7,66.0 L759.7,66.2 L762.7,66.5 L765.6,66.8 L768.6,67.1 L771.6,67.5 L774.6,67.8 L777.6,68.2 L780.6,68.5 L783.6,68.9 L786.6,69.3 L789.6,69.7 L792.5,70.0 L795.5,70.4 L798.5,70.8 L801.5,71.2 L804.5,71.6 L807.5,71.9 L810.5,72.3 L813.5,72.7 L816.4,73.1 L819.4,73.4 L822.4,73.8 L825.4,74.1 L828.4,74.4 L831.4,74.8 L834.4,75.1 L837.4,75.4 L840.4,75.6 L843.3,75.9 L846.3,76.2 L849.3,76.4 L852.3,76.6 L855.3,76.8 L858.3,77.0 L861.3,77.1 L864.3,77.3 L867.3,77.4 L870.2,77.5 L873.2,77.5 L876.2,77.6 L879.2,77.6 L882.2,77.6 L885.2,77.6 L888.2,77.6 L891.2,77.6 L894.1,77.5 L897.1,77.4 L900.1,77.3 L903.1,77.2 L906.1,77.1 L909.1,77.0 L912.1,76.8 L915.1,76.7 L918.1,76.5 L921.0,76.3 L924.0,76.1 L927.0,75.9 L930.0,75.7 L933.0,75.5 L936.0,75.3 L939.0,75.1 L942.0,74.9 L944.9,74.6 L947.9,74.4 L950.9,74.2 L953.9,74.0 L956.9,73.8 L959.9,73.5 L962.9,73.3 L965.9,73.1 L968.9,72.9 L971.8,72.7 L974.8,72.5 L977.8,72.3 L980.8,72.1 L983.8,71.9 L986.8,71.7 L989.8,71.5 L992.8,71.4 L995.8,71.2 L998.7,71.1 L1001.7,70.9 L1004.7,70.8 L1007.7,70.7 L1010.7,70.6 L1013.7,70.5 L1016.7,70.4 L1019.7,70.4 L1022.6,70.3 L1025.6,70.3 L1028.6,70.2 L1031.6,70.2 L1034.6,70.2 L1037.6,70.2 L1040.6,70.2 L1043.6,70.2 L1046.6,70.3 L1049.5,70.3 L1052.5,70.4 L1055.5,70.4 L1058.5,70.5 L1061.5,70.6 L1064.5,70.7 L1067.5,70.8 L1070.5,70.9 L1073.5,71.0 L1076.4,71.1 L1079.4,71.2 L1082.4,71.3 L1085.4,71.4 L1088.4,71.6 L1091.4,71.7 L1094.4,71.8 L1097.4,72.0 L1100.3,72.1 L1103.3,72.2 L1106.3,72.4 L1109.3,72.5 L1112.3,72.7 L1115.3,72.8 L1118.3,72.9 L1121.3,73.1 L1124.3,73.2 L1127.2,73.3 L1130.2,73.5 L1133.2,73.6 L1136.2,73.7 L1139.2,73.8 L1142.2,73.9 L1145.2,74.0 L1148.2,74.1 L1151.1,74.2 L1154.1,74.3 L1157.1,74.4 L1160.1,74.4 L1163.1,74.5 L1166.1,74.6 L1169.1,74.6 L1172.1,74.7 L1175.1,74.7 L1178.0,74.7 L1181.0,74.8 L1184.0,74.8 L1187.0,74.8 L1190.0,74.8 L1193.0,74.8 L1196.0,74.8 L1199.0,74.7 L1202.0,74.7 L1204.9,74.7 L1207.9,74.6 L1210.9,74.6 L1213.9,74.6 L1216.9,74.5 L1219.9,74.4 L1222.9,74.4 L1225.9,74.3 L1228.8,74.2 L1231.8,74.2 L1234.8,74.1 L1237.8,74.0 L1240.8,73.9 L1243.8,73.9 L1246.8,73.8 L1249.8,73.7 L1252.8,73.6 L1255.7,73.5 L1258.7,73.4 L1261.7,73.3 L1264.7,73.3 L1267.7,73.2 L1270.7,73.1 L1273.7,73.0 L1276.7,72.9 L1279.7,72.9 L1282.6,72.8 L1285.6,72.7 L1288.6,72.6 L1291.6,72.6 L1294.6,72.5 L1297.6,72.5 L1300.6,72.4 L1303.6,72.4 L1306.5,72.3 L1309.5,72.3 L1312.5,72.3 L1315.5,72.2 L1318.5,72.2 L1321.5,72.2 L1324.5,72.2 L1327.5,72.1 L1330.5,72.1 L1333.4,72.1 L1336.4,72.1 L1339.4,72.1 L1342.4,72.1 L1345.4,72.2 L1348.4,72.2 L1351.4,72.2 L1354.4,72.2 L1357.3,72.2 L1360.3,72.3 L1363.3,72.3 L1366.3,72.3 L1369.3,72.4 L1372.3,72.4 L1375.3,72.4 L1378.3,72.5 L1381.3,72.5 L1384.2,72.6 L1387.2,72.6 L1390.2,72.7 L1393.2,72.7 L1396.2,72.8 L1399.2,72.8 L1402.2,72.9 L1405.2,72.9 L1408.2,73.0 L1411.1,73.0 L1414.1,73.1 L1417.1,73.1 L1420.1,73.2 L1423.1,73.2 L1426.1,73.3 L1429.1,73.3 L1432.1,73.4 L1435.0,73.4 L1438.0,73.4 L1441.0,73.5 L1444.0,73.5 L1447.0,73.6 L1450.0,73.6 L1453.0,73.6 L1456.0,73.7 L1459.0,73.7 L1461.9,73.7 L1464.9,73.7 L1467.9,73.8 L1470.9,73.8 L1473.9,73.8 L1476.9,73.8 L1479.9,73.8 L1482.9,73.8 L1485.8,73.8 L1488.8,73.8 L1491.8,73.8 L1494.8,73.8 L1497.8,73.8 L1500.8,73.8 L1503.8,73.8 L1506.8,73.8 L1509.8,73.7 L1512.7,73.7 L1515.7,73.7 L1518.7,73.7 L1521.7,73.6 L1524.7,73.6 L1527.7,73.6 L1530.7,73.5 L1533.7,73.5 L1536.7,73.5 L1539.6,73.5 L1542.6,73.4 L1545.6,73.4 L1548.6,73.4 L1551.6,73.3 L1554.6,73.3 L1557.6,73.3 L1560.6,73.3 L1563.5,73.2 L1566.5,73.2 L1569.5,73.2 L1572.5,73.2 L1575.5,73.1 L1578.5,73.1 L1581.5,73.1 L1584.5,73.1 L1587.5,73.1 L1590.4,73.0 L1593.4,73.0 L1596.4,73.0 L1599.4,73.0 L1602.4,73.0 L1605.4,73.0 L1608.4,72.9 L1611.4,72.9 L1614.4,72.9 L1617.3,72.9 L1620.3,72.9 L1623.3,72.9 L1626.3,72.9 L1629.3,72.8 L1632.3,72.8 L1635.3,72.8 L1638.3,72.8 L1641.2,72.8 L1644.2,72.8 L1647.2,72.8 L1650.2,72.8 L1653.2,72.7"/>
<path fill="none" stroke-linejoin="round" shape-rendering="crispEdges" stroke="#7f00ff" stroke-width="4" d="M159.0,1237.2 L159.7,1235.8 L160.5,1233.8 L161.2,1231.1 L162.0,1227.5 L162.7,1222.7 L163.5,1216.7 L164.2,1209.9 L165.0,1202.6 L165.7,1194.8 L166.5,1186.6 L167.2,1178.0 L168.0,1168.9 L168.7,1159.4 L169.5,1149.5 L170.2,1139.1 L171.0,1128.1 L171.7,1116.6 L172.4,1104.7 L173.2,1092.4 L173.9,1079.7 L174.7,1066.6 L175.4,1053.3 L176.2,1039.9 L176.9,1026.5 L177.7,1013.2 L178.4,1000.2 L179.2,987.4 L179.9,974.7 L180.7,962.2 L181.4,949.9 L182.2,937.7 L182.9,925.7 L183.7,913.8 L184.4,902.0 L185.1,890.3 L185.9,878.7 L186.6,867.1 L187.4,855.6 L188.1,844.3 L188.9,833.0 L189.6,821.7 L190.4,810.6 L191.1,799.5 L191.9,788.5 L192.6,777.6 L193.4,766.8 L194.1,756.0 L194.9,745.4 L195.6,734.8 L196.4,724.4 L197.1,714.2 L197.8,704.1 L198.6,694.3 L199.3,684.7 L200.1,675.2 L200.8,665.9 L201.6,656.6 L202.3,647.2 L203.1,637.6 L203.8,628.0 L204.6,618.2 L205.3,608.4 L206.1,598.7 L206.8,589.2 L207.6,579.9 L208.3,570.9 L209.1,562.2 L209.8,553.8 L210.5,545.6 L211.3,537.5 L212.0,529.5 L212.8,521.7 L213.5,513.9 L214.3,506.1 L215.0,498.4 L215.8,490.8 L216.5,483.2 L217.3,475.8 L218.0,468.6 L218.8,461.6 L219.5,454.6 L220.3,447.6 L221.0,440.8 L221.8,434.0 L222.5,427.3 L223.3,420.8 L224.0,414.3 L224.7,407.8 L225.5,401.5 L226.2,395.3 L227.0,389.1 L227.7,383.1 L228.5,377.1 L229.2,371.3 L230.0,365.6 L230.7,360.0 L231.5,354.6 L232.2,349.3 L233.0,344.1 L233.7,339.1 L234.5,334.2 L235.2,329.4 L236.0,324.6 L236.7,319.8 L237.4,314.9 L238.2,310.1 L238.9,305.2 L239.7,300.3 L240.4,295.4 L241.2,290.5 L241.9,285.7 L242.7,281.0 L243.4,276.4 L244.2,271.8 L244.9,267.3 L245.7,262.9 L246.4,258.6 L247.2,254.3 L247.9,250.1 L248.7,246.0 L249.4,242.0 L250.1,238.0 L250.9,234.0 L251.6,230.1 L252.4,226.2 L253.1,222.3 L253.9,218.5 L254.6,214.7 L255.4,210.9 L256.1,207.3 L256.9,203.8 L257.6,200.4 L258.4,197.2 L259.1,194.1 L259.9,191.1 L260.6,188.2 L261.4,185.5 L262.1,182.9 L262.8,180.3 L263.6,177.9 L264.3,175.6 L265.1,173.3 L265.8,171.2 L266.6,169.2 L267.3,167.2 L268.1,165.3 L268.8,163.5 L269.6,161.8 L270.3,160.1 L271.1,158.4 L271.8,156.9 L272.6,155.3 L273.3,153.9 L274.1,152.4 L274.8,151.0 L275.5,149.7 L276.3,148.3 L277.0,147.0 L277.8,145.7 L278.5,144.4 L279.3,143.1 L280.0,141.8 L280.8,140.5 L281.5,139.2 L282.3,138.0 L283.0,136.8 L283.8,135.7 L284.5,134.8 L285.3,133.8 L286.0,132.8 L286.8,131.8 L287.5,130.9 L288.2,130.1 L289.0,129.3 L289.7,128.6 L290.5,127.9 L291.2,127.2 L292.0,126.6 L292.7,126.0 L293.5,125.4 L294.2,124.9 L295.0,124.5 L295.7,124.0 L296.5,123.6 L297.2,123.2 L298.0,122.8 L298.7,122.5 L299.5,122.1 L300.2,121.8 L300.9,121.5 L301.7,121.3 L302.4,121.0 L303.2,120.8 L303.9,120.6 L304.7,120.4 L305.4,120.2 L306.2,120.1 L306.9,119.9 L307.7,119.8 L308.4,119.7 L309.2,119.6 L309.9,119.5 L310.7,119.5 L311.4,119.4 L312.2,119.4 L312.9,119.3 L313.6,119.3 L314.4,119.3 L315.1,119.3 L315.9,119.3 L316.6,119.3 L317.4,119.3 L318.1,119.3 L318.9,119.3 L319.6,119.3 L320.4,119.4 L321.1,119.4 L321.9,119.4 L322.6,119.5 L323.4,119.5 L324.1,119.6 L324.9,119.7 L325.6,119.7 L326.4,119.8 L327.1,119.9 L327.8,120.0 L328.6,120.0 L329.3,120.1 L330.1,120.2 L330.8,120.3 L331.6,120.3 L332.3,120.4 L333.1,120.5 L333.8,120.6 L334.6,120.6 L335.3,120.7 L336.1,120.8 L336.8,120.8 L337.6,120.9 L338.3,121.0 L339.1,121.0 L339.8,121.1 L340.5,121.1 L341.3,121.2 L342.0,121.2 L342.8,121.3 L343.5,121.3 L344.3,121.3 L345.0,121.4 L345.8,121.4 L346.5,121.4 L347.3,121.5 L348.0,121.5 L348.8,121.5 L349.5,121.5 L350.3,121.6 L351.0,121.6 L351.8,121.6 L352.5,121.6 L353.2,121.6 L354.0,121.6 L354.7,121.6 L355.5,121.7 L356.2,121.7 L357.0,121.7 L357.7,121.7 L358.5,121.7 L359.2,121.7 L360.0,121.7 L360.7,121.7 L361.5,121.7 L362.2,121.7 L363.0,121.7 L363.7,121.7 L364.5,121.7 L365.2,121.7 L365.9,121.7 L366.7,121.7 L367.4,121.7 L368.2,121.7 L371.2,121.7 L374.2,121.7 L377.2,121.7 L380.1,121.7 L383.1,121.7 L386.1,121.7 L389.1,121.7 L392.1,121.7 L395.1,121.7 L398.1,121.7 L401.1,121.7 L404.0,121.7 L407.0,121.7 L410.0,121.7 L413.0,121.7 L416.0,121.7 L419.0,121.7 L422.0,121.7 L425.0,121.7 L428.0,121.7 L430.9,121.7 L433.9,121.7 L436.9,121.7 L439.9,121.7 L442.9,121.7 L445.9,121.7 L448.9,121.7 L451.9,121.7 L454.9,121.7 L457.8,121.7 L460.8,121.7 L463.8,121.7 L466.8,121.7 L469.8,121.7 L472.8,121.7 L475.8,121.7 L478.8,121.7 L481.7,121.7 L484.7,121.7 L487.7,121.7 L490.7,121.7 L493.7,121.7 L496.7,121.7 L499.7,121.7 L502.7,121.7 L505.7,121.7 L508.6,121.7 L511.6,121.7 L514.6,121.7 L517.6,121.7 L520.6,121.7 L523.6,121.7 L526.6,121.7 L529.6,121.7 L532.5,121.7 L535.5,121.7 L538.5,121.7 L541.5,121.7 L544.5,121.7 L547.5,121.7 L550.5,121.7 L553.5,121.7 L556.5,121.7 L559.4,121.7 L562.4,121.7 L565.4,121.7 L568.4,121.7 L571.4,121.7 L574.4,121.7 L577.4,121.7 L580.4,121.7 L583.4,121.7 L586.3,121.7 L589.3,121.7 L592.3,121.7 L595.3,121.7 L598.3,121.7 L601.3,121.7 L604.3,121.7 L607.3,121.7 L610.2,121.7 L613.2,121.7 L616.2,121.7 L619.2,121.7 L622.2,121.7 L625.2,121.7 L628.2,121.7 L631.2,121.7 L634.2,121.7 L637.1,121.7 L640.1,121.7 L643.1,121.7 L646.1,121.7 L649.1,121.7 L652.1,121.7 L655.1,121.7 L658.1,121.7 L661.1,121.7 L664.0,121.7 L667.0,121.7 L670.0,121.7 L673.0,121.7 L676.0,121.7 L679.0,121.7 L682.0,121.7 L685.0,121.7 L687.9,121.7 L690.9,121.7 L693.9,121.7 L696.9,121.7 L699.9,121.7 L702.9,121.7 L705.9,121.7 L708.9,121.7 L711.9,121.7 L714.8,121.7 L717.8,121.7 L720.8,121.7 L723.8,121.7 L726.8,121.7 L729.8,121.7 L732.8,121.7 L735.8,121.7 L738.7,121.7 L741.7,121.7 L744.7,121.7 L747.7,121.7 L750.7,121.7 L753.7,121.7 L756.7,121.7 L759.7,121.7 L762.7,121.7 L765.6,121.7 L768.6,121.7 L771.6,121.7 L774.6,121.7 L777.6,121.7 L780.6,121.7 L783.6,121.7 L786.6,121.7 L789.6,121.7 L792.5,121.7 L795.5,121.7 L798.5,121.7 L801.5,121.7 L804.5,121.7 L807.5,121.7 L810.5,121.7 L813.5,121.7 L816.4,121.7 L819.4,121.7 L822.4,121.7 L825.4,121.7 L828.4,121.7 L831.4,121.7 L834.4,121.7 L837.4,121.7 L840.4,121.7 L843.3,121.7 L846.3,121.7 L849.3,121.7 L852.3,121.7 L855.3,121.7 L858.3,121.7 L861.3,121.7 L864.3,121.7 L867.3,121.7 L870.2,121.7 L873.2,121.7 L876.2,121.7 L879.2,121.7 L882.2,121.7 L885.2,121.7 L888.2,121.7 L891.2,121.7 L894.1,121.7 L897.1,121.7 L900.1,121.7 L903.1,121.7 L906.1,121.7 L909.1,121.7 L912.1,121.7 L915.1,121.7 L918.1,121.7 L921.0,121.7 L924.0,121.7 L927.0,121.7 L930.0,121.7 L933.0,121.7 L936.0,121.7 L939.0,121.7 L942.0,121.7 L944.9,121.7 L947.9,121.7 L950.9,121.7 L953.9,121.7 L956.9,121.7 L959.9,121.7 L962.9,121.7 L965.9,121.7 L968.9,121.7 L971.8,121.7 L974.8,121.7 L977.8,121.7 L980.8,121.7 L983.8,121.7 L986.8,121.7 L989.8,121.7 L992.8,121.7 L995.8,121.7 L998.7,121.7 L1001.7,121.7 L1004.7,121.7 L1007.7,121.7 L1010.7,121.7 L1013.7,121.7 L1016.7,121.7 L1019.7,121.7 L1022.6,121.7 L1025.6,121.7 L1028.6,121.7 L1031.6,121.7 L1034.6,121.7 L1037.6,121.7 L1040.6,121.7 L1043.6,121.7 L1046.6,121.7 L1049.5,121.7 L1052.5,121.7 L1055.5,121.7 L1058.5,121.7 L1061.5,121.7 L1064.5,121.7 L1067.5,121.7 L1070.5,121.7 L1073.5,121.7 L1076.4,121.7 L1079.4,121.7 L1082.4,121.7 L1085.4,121.7 L1088.4,121.7 L1091.4,121.7 L1094.4,121.7 L1097.4,121.7 L1100.3,121.7 L1103.3,121.7 L1106.3,121.7 L1109.3,121.7 L1112.3,121.7 L1115.3,121.7 L1118.3,121.7 L1121.3,121.7 L1124.3,121.7 L1127.2,121.7 L1130.2,121.7 L1133.2,121.7 L1136.2,121.7 L1139.2,121.7 L1142.2,121.7 L1145.2,121.7 L1148.2,121.7 L1151.1,121.7 L1154.1,121.7 L1157.1,121.7 L1160.1,121.7 L1163.1,121.7 L1166.1,121.7 L1169.1,121.7 L1172.1,121.7 L1175.1,121.7 L1178.0,121.7 L1181.0,121.7 L1184.0,121.7 L1187.0,121.7 L1190.0,121.7 L1193.0,121.7 L1196.0,121.7 L1199.0,121.7 L1202.0,121.7 L1204.9,121.7 L1207.9,121.7 L1210.9,121.7 L1213.9,121.7 L1216.9,121.7 L1219.9,121.7 L1222.9,121.7 L1225.9,121.7 L1228.8,121.7 L1231.8,121.7 L1234.8,121.7 L1237.8,121.7 L1240.8,121.7 L1243.8,121.7 L1246.8,121.7 L1249.8,121.7 L1252.8,121.7 L1255.7,121.7 L1258.7,121.7 L1261.7,121.7 L1264.7,121.7 L1267.7,121.7 L1270.7,121.7 L1273.7,121.7 L1276.7,121.7 L1279.7,121.7 L1282.6,121.7 L1285.6,121.7 L1288.6,121.7 L1291.6,121.7 L1294.6,121.7 L1297.6,121.7 L1300.6,121.7 L1303.6,121.7 L1306.5,121.7 L1309.5,121.7 L1312.5,121.7 L1315.5,121.7 L1318.5,121.7 L1321.5,121.7 L1324.5,121.7 L1327.5,121.7 L1330.5,121.7 L1333.4,121.7 L1336.4,121.7 L1339.4,121.7 L1342.4,121.7 L1345.4,121.7 L1348.4,121.7 L1351.4,121.7 L1354.4,121.7 L1357.3,121.7 L1360.3,121.7 L1363.3,121.7 L1366.3,121.7 L1369.3,121.7 L1372.3,121.7 L1375.3,121.7 L1378.3,121.7 L1381.3,121.7 L1384.2,121.7 L1387.2,121.7 L1390.2,121.7 L1393.2,121.7 L1396.2,121.7 L1399.2,121.7 L1402.2,121.7 L1405.2,121.7 L1408.2,121.7 L1411.1,121.7 L1414.1,121.7 L1417.1,121.7 L1420.1,121.7 L1423.1,121.7 L1426.1,121.7 L1429.1,121.7 L1432.1,121.7 L1435.0,121.7 L1438.0,121.7 L1441.0,121.7 L1444.0,121.7 L1447.0,121.7 L1450.0,121.7 L1453.0,121.7 L1456.0,121.7 L1459.0,121.7 L1461.9,121.7 L1464.9,121.7 L1467.9,121.7 L1470.9,121.7 L1473.9,121.7 L1476.9,121.7 L1479.9,121.7 L1482.9,121.7 L1485.8,121.7 L1488.8,121.7 L1491.8,121.7 L1494.8,121.7 L1497.8,121.7 L1500.8,121.7 L1503.8,121.7 L1506.8,121.7 L1509.8,121.7 L1512.7,121.7 L1515.7,121.7 L1518.7,121.7 L1521.7,121.7 L1524.7,121.7 L1527.7,121.7 L1530.7,121.7 L1533.7,121.7 L1536.7,121.7 L1539.6,121.7 L1542.6,121.7 L1545.6,121.7 L1548.6,121.7 L1551.6,121.7 L1554.6,121.7 L1557.6,121.7 L1560.6,121.7 L1563.5,121.7 L1566.5,121.7 L1569.5,121.7 L1572.5,121.7 L1575.5,121.7 L1578.5,121.7 L1581.5,121.7 L1584.5,121.7 L1587.5,121.7 L1590.4,121.7 L1593.4,121.7 L1596.4,121.7 L1599.4,121.7 L1602.4,121.7 L1605.4,121.7 L1608.4,121.7 L1611.4,121.7 L1614.4,121.7 L1617.3,121.7 L1620.3,121.7 L1623.3,121.7 L1626.3,121.7 L1629.3,121.7 L1632.3,121.7 L1635.3,121.7 L1638.3,121.7 L1641.2,121.7 L1644.2,121.7 L1647.2,121.7 L1650.2,121.7 L1653.2,121.7"/>
<g stroke="#000" stroke-width="4" fill="none" shape-rendering="crispEdges">
<path d="M752,34.9 V288" stroke-dasharray="17.6 11.7"/>
<path d="M204,32 H744" stroke-dasharray="17.3 11.7"/>
<path d="M746.3,309.3 L752.3,301.6" stroke-linecap="round"/>
</g>
<path d="M644.4,323.2 L711,512" stroke="#000" stroke-width="4.2" stroke-linecap="round" fill="none"/>
<path d="M719,534.8 L699.4,506 L710.6,507.6 L715,500.6 Z" fill="#000" stroke="#000" stroke-width="1.2" stroke-linejoin="round"/>
<rect x="1091.2" y="164.5" width="549.9" height="201.3" fill="#fff" stroke="#000" stroke-width="2.6"/>
<path d="M1095.7,192.0 H1183" stroke="#0000ff" stroke-width="4" stroke-linecap="round" fill="none"/>
<text x="1191.2" y="205.0" font-size="38.5" textLength="185.4" lengthAdjust="spacingAndGlyphs" xml:space="preserve">SMC Depth</text>
<path d="M1095.7,240.8 H1183" stroke="#ff0000" stroke-width="4" stroke-linecap="round" fill="none"/>
<text x="1191.2" y="254.0" font-size="38.5" textLength="442.4" lengthAdjust="spacingAndGlyphs" xml:space="preserve">SMC Depth With Uncertaity</text>
<path d="M1095.7,290.0 H1183" stroke="#7f00ff" stroke-width="4" stroke-linecap="round" fill="none"/>
<text x="1191.2" y="302.8" font-size="38.5" textLength="439.2" lengthAdjust="spacingAndGlyphs" xml:space="preserve">SSC  Depth With Uncertaity</text>
<path d="M1095.7,338.3 H1183" stroke="#000000" stroke-width="4" stroke-linecap="round" fill="none"/>
<text x="1191.2" y="350.8" font-size="38.5" textLength="423.4" lengthAdjust="spacingAndGlyphs" xml:space="preserve">SMC Depth With Observer</text>
<rect x="714.5" y="550.5" width="849.0" height="557.0" fill="#fff" stroke="none"/>
<path d="M751.5,1107.5 v-11.5 M751.5,550.5 v11.5 M796.5,1107.5 v-6 M796.5,550.5 v6 M842.5,1107.5 v-11.5 M842.5,550.5 v11.5 M887.5,1107.5 v-6 M887.5,550.5 v6 M933.5,1107.5 v-11.5 M933.5,550.5 v11.5 M978.5,1107.5 v-6 M978.5,550.5 v6 M1024.5,1107.5 v-11.5 M1024.5,550.5 v11.5 M1069.5,1107.5 v-6 M1069.5,550.5 v6 M1115.5,1107.5 v-11.5 M1115.5,550.5 v11.5 M1161.5,1107.5 v-6 M1161.5,550.5 v6 M1206.5,1107.5 v-11.5 M1206.5,550.5 v11.5 M1252.5,1107.5 v-6 M1252.5,550.5 v6 M1297.5,1107.5 v-11.5 M1297.5,550.5 v11.5 M1343.5,1107.5 v-6 M1343.5,550.5 v6 M1388.5,1107.5 v-11.5 M1388.5,550.5 v11.5 M1434.5,1107.5 v-6 M1434.5,550.5 v6 M1480.5,1107.5 v-11.5 M1480.5,550.5 v11.5 M1525.5,1107.5 v-6 M1525.5,550.5 v6 M714.5,1061.5 h6.5 M1563.5,1061.5 h-6.5 M714.5,1015.5 h12 M1563.5,1015.5 h-12 M714.5,968.5 h6.5 M1563.5,968.5 h-6.5 M714.5,922.5 h12 M1563.5,922.5 h-12 M714.5,875.5 h6.5 M1563.5,875.5 h-6.5 M714.5,829.5 h12 M1563.5,829.5 h-12 M714.5,782.5 h6.5 M1563.5,782.5 h-6.5 M714.5,736.5 h12 M1563.5,736.5 h-12 M714.5,690.5 h6.5 M1563.5,690.5 h-6.5 M714.5,643.5 h12 M1563.5,643.5 h-12 M714.5,597.5 h6.5 M1563.5,597.5 h-6.5" stroke="#000" stroke-width="3" fill="none" shape-rendering="crispEdges"/>
<rect x="714.5" y="550.5" width="849.0" height="557.0" fill="none" stroke="#000" stroke-width="3" shape-rendering="crispEdges"/>
<clipPath id="ic"><rect x="713.0" y="549.0" width="851.2" height="560.0"/></clipPath>
<g fill="none" stroke-linejoin="round" clip-path="url(#ic)" shape-rendering="crispEdges">
<path stroke="#0000ff" stroke-width="2.6" d="M712.5,1595.21 L713.6,1580.43 L714.8,1565.90 L715.9,1551.63 L717.1,1537.60 L718.2,1523.81 L719.3,1510.26 L720.5,1496.94 L721.6,1483.85 L722.8,1470.99 L723.9,1458.35 L725.0,1445.93 L726.2,1433.72 L727.3,1421.72 L728.4,1409.92 L729.6,1398.33 L730.7,1386.94 L731.9,1375.75 L733.0,1364.74 L734.1,1353.93 L735.3,1343.30 L736.4,1332.85 L737.6,1322.54 L738.7,1312.39 L739.8,1302.44 L741.0,1292.79 L742.1,1283.47 L743.3,1274.47 L744.4,1265.71 L745.5,1257.13 L746.7,1248.72 L747.8,1240.47 L749.0,1232.37 L750.1,1224.53 L751.2,1216.95 L752.4,1209.26 L753.5,1201.70 L754.7,1194.26 L755.8,1186.89 L756.9,1179.64 L758.1,1172.50 L759.2,1165.46 L760.3,1158.52 L761.5,1151.70 L762.6,1144.98 L763.8,1138.38 L764.9,1131.89 L766.0,1125.52 L767.2,1119.27 L768.3,1113.13 L769.5,1107.10 L770.6,1101.18 L771.7,1095.35 L772.9,1089.62 L774.0,1083.97 L775.2,1078.41 L776.3,1072.93 L777.4,1067.52 L778.6,1062.19 L779.7,1056.92 L780.9,1051.73 L782.0,1046.60 L783.1,1041.54 L784.3,1036.54 L785.4,1031.59 L786.6,1026.70 L787.7,1021.86 L788.8,1017.07 L790.0,1012.32 L791.1,1007.60 L792.2,1002.92 L793.4,998.28 L794.5,993.68 L795.7,989.13 L796.8,984.62 L797.9,980.17 L799.1,975.79 L800.2,971.48 L801.4,967.25 L802.5,963.11 L803.6,959.07 L804.8,955.14 L805.9,951.33 L807.1,947.65 L808.2,944.11 L809.3,940.69 L810.5,937.39 L811.6,934.19 L812.8,931.05 L813.9,927.93 L815.0,924.79 L816.2,921.62 L817.3,918.40 L818.5,915.13 L819.6,911.83 L820.7,908.53 L821.9,905.27 L823.0,902.09 L824.1,898.99 L825.3,896.01 L826.4,893.13 L827.6,890.35 L828.7,887.66 L829.8,885.02 L831.0,882.43 L832.1,879.87 L833.3,877.31 L834.4,874.77 L835.5,872.22 L836.7,869.68 L837.8,867.15 L839.0,864.64 L840.1,862.16 L841.2,859.73 L842.4,857.35 L843.5,855.03 L844.7,852.78 L845.8,850.59 L846.9,848.47 L848.1,846.44 L849.2,844.46 L850.3,842.56 L851.5,840.85 L852.6,838.96 L853.8,837.13 L854.9,835.34 L856.0,833.58 L857.2,831.87 L858.3,830.18 L859.5,828.52 L860.6,826.90 L861.7,825.31 L862.9,823.76 L864.0,822.25 L865.2,820.77 L866.3,819.33 L867.4,817.92 L868.6,816.55 L869.7,815.21 L870.9,813.91 L872.0,812.63 L873.1,811.38 L874.3,810.16 L875.4,808.96 L876.6,807.78 L877.7,806.62 L878.8,805.48 L880.0,804.36 L881.1,803.25 L882.2,802.15 L883.4,801.07 L884.5,800.00 L885.7,798.94 L886.8,797.89 L887.9,796.86 L889.1,795.84 L890.2,794.83 L891.4,793.84 L892.5,792.87 L893.6,791.91 L894.8,790.96 L895.9,790.03 L897.1,789.12 L898.2,788.22 L899.3,787.34 L900.5,786.48 L901.6,785.63 L902.8,784.80 L903.9,783.98 L905.0,783.17 L906.2,782.38 L907.3,781.60 L908.5,780.85 L909.6,780.10 L910.7,779.37 L911.9,778.65 L913.0,777.94 L914.1,777.26 L915.3,776.68 L916.4,775.99 L917.6,775.32 L918.7,774.66 L919.8,774.01 L921.0,773.37 L922.1,772.74 L923.3,772.12 L924.4,771.51 L925.5,770.91 L926.7,770.32 L927.8,769.73 L929.0,769.16 L930.1,768.60 L931.2,768.04 L932.4,767.50 L933.5,766.96 L934.7,766.43 L935.8,765.92 L936.9,765.41 L938.1,764.91 L939.2,764.42 L940.4,763.94 L941.5,763.46 L942.6,763.00 L943.8,762.55 L944.9,762.10 L946.0,761.66 L947.2,761.23 L948.3,760.81 L949.5,760.40 L950.6,759.99 L951.7,759.60 L952.9,759.21 L954.0,758.83 L955.2,758.45 L956.3,758.09 L957.4,757.73 L958.6,757.38 L959.7,757.04 L960.9,756.70 L962.0,756.37 L963.1,756.05 L964.3,755.73 L965.4,755.42 L966.6,755.12 L967.7,754.82 L968.8,754.53 L970.0,754.24 L971.1,753.96 L972.2,753.68 L973.4,753.41 L974.5,753.14 L975.7,752.87 L976.8,752.61 L977.9,752.36 L978.9,752.16 L983.4,751.18 L988.0,750.26 L992.5,749.38 L997.1,748.54 L1001.6,747.75 L1006.2,747.00 L1010.7,746.29 L1015.3,745.62 L1019.9,744.98 L1024.4,744.38 L1029.0,743.81 L1033.5,743.27 L1038.1,742.77 L1042.6,742.29 L1047.2,741.85 L1051.8,741.43 L1056.3,741.05 L1060.9,740.69 L1065.4,740.37 L1070.0,740.06 L1074.5,739.79 L1079.1,739.53 L1083.7,739.29 L1088.2,739.06 L1092.8,738.84 L1097.3,738.63 L1101.9,738.43 L1106.4,738.25 L1111.0,738.07 L1115.6,737.91 L1120.1,737.75 L1124.7,737.61 L1129.2,737.49 L1133.8,737.38 L1138.3,737.29 L1142.9,737.21 L1147.5,737.15 L1152.0,737.09 L1156.6,737.05 L1161.1,737.00 L1165.7,736.97 L1170.2,736.93 L1174.8,736.90 L1179.4,736.87 L1183.9,736.84 L1188.5,736.81 L1193.0,736.78 L1197.6,736.75 L1202.1,736.71 L1206.7,736.68 L1211.3,736.64 L1215.8,736.61 L1220.4,736.57 L1224.9,736.53 L1229.5,736.49 L1234.0,736.44 L1238.6,736.40 L1243.2,736.36 L1247.7,736.32 L1252.3,736.28 L1256.8,736.24 L1261.4,736.20 L1265.9,736.17 L1270.5,736.14 L1275.1,736.11 L1279.6,736.09 L1284.2,736.07 L1288.7,736.06 L1293.3,736.05 L1297.8,736.04 L1302.4,736.04 L1307.0,736.04 L1311.5,736.04 L1316.1,736.04 L1320.6,736.04 L1325.2,736.04 L1329.7,736.04 L1334.3,736.04 L1338.9,736.04 L1343.4,736.04 L1348.0,736.04 L1352.5,736.04 L1357.1,736.04 L1361.6,736.04 L1366.2,736.04 L1370.8,736.04 L1375.3,736.04 L1379.9,736.04 L1384.4,736.04 L1389.0,736.04 L1393.5,736.04 L1398.1,736.04 L1402.7,736.04 L1407.2,736.04 L1411.8,736.04 L1416.3,736.04 L1420.9,736.04 L1425.4,736.04 L1430.0,736.04 L1434.6,736.04 L1439.1,736.04 L1443.7,736.04 L1448.2,736.04 L1452.8,736.04 L1457.3,736.04 L1461.9,736.04 L1466.4,736.04 L1471.0,736.04 L1475.6,736.04 L1480.1,736.04 L1484.7,736.04 L1489.2,736.04 L1493.8,736.04 L1498.3,736.04 L1502.9,736.04 L1507.5,736.04 L1512.0,736.04 L1516.6,736.04 L1521.1,736.04 L1525.7,736.04 L1530.2,736.04 L1534.8,736.04 L1539.4,736.04 L1543.9,736.04 L1548.5,736.04 L1553.0,736.04 L1557.6,736.04 L1562.1,736.04 L1565.5,736.04"/>
<path stroke="#000000" stroke-width="2.6" d="M712.5,1686.52 L713.6,1664.61 L714.8,1642.71 L715.9,1620.73 L717.1,1598.54 L718.2,1576.08 L719.3,1553.36 L720.5,1530.50 L721.6,1507.61 L722.8,1484.76 L723.9,1461.95 L725.0,1439.21 L726.2,1416.61 L727.3,1394.30 L728.4,1372.38 L729.6,1350.93 L730.7,1330.01 L731.9,1309.73 L733.0,1290.18 L734.1,1271.35 L735.3,1253.14 L736.4,1235.46 L737.6,1218.22 L738.7,1201.40 L739.8,1184.96 L741.0,1168.89 L742.1,1153.19 L743.3,1137.82 L744.4,1122.77 L745.5,1108.02 L746.7,1093.56 L747.8,1079.39 L749.0,1065.52 L750.1,1052.16 L751.2,1039.42 L752.4,1026.43 L753.5,1013.73 L754.7,1001.19 L755.8,988.70 L756.9,976.27 L758.1,963.86 L759.2,951.47 L760.3,939.15 L761.5,926.97 L762.6,915.07 L763.8,903.61 L764.9,892.69 L766.0,882.42 L767.2,872.83 L768.3,863.96 L769.5,855.79 L770.6,848.30 L771.7,841.46 L772.9,835.24 L774.0,829.60 L775.2,824.51 L776.3,819.94 L777.4,815.83 L778.6,812.13 L779.7,808.77 L780.9,805.69 L782.0,802.85 L783.1,800.23 L784.3,797.80 L785.4,795.56 L786.6,793.50 L787.7,791.63 L788.8,789.96 L790.0,788.48 L791.1,787.17 L792.2,786.03 L793.4,785.04 L794.5,784.20 L795.7,783.49 L796.8,782.90 L797.9,782.43 L799.1,782.07 L800.2,781.82 L801.4,781.65 L802.5,781.56 L803.6,781.54 L804.8,781.56 L805.9,781.64 L807.1,781.75 L808.2,781.90 L809.3,782.08 L810.5,782.28 L811.6,782.50 L812.8,782.71 L813.9,782.91 L815.0,783.10 L816.2,783.25 L817.3,783.37 L818.5,783.46 L819.6,783.50 L820.7,783.50 L821.9,783.45 L823.0,783.35 L824.1,783.19 L825.3,782.97 L826.4,782.67 L827.6,782.29 L828.7,781.82 L829.8,781.26 L831.0,780.63 L832.1,779.92 L833.3,779.15 L834.4,778.33 L835.5,777.46 L836.7,776.57 L837.8,775.67 L839.0,774.75 L840.1,773.83 L841.2,772.91 L842.4,771.99 L843.5,771.09 L844.7,770.20 L845.8,769.32 L846.9,768.47 L848.1,767.65 L849.2,766.85 L850.3,766.09 L851.5,765.39 L852.6,764.61 L853.8,763.85 L854.9,763.11 L856.0,762.38 L857.2,761.66 L858.3,760.96 L859.5,760.26 L860.6,759.57 L861.7,758.91 L862.9,758.27 L864.0,757.65 L865.2,757.06 L866.3,756.51 L867.4,755.98 L868.6,755.50 L869.7,755.04 L870.9,754.62 L872.0,754.22 L873.1,753.86 L874.3,753.52 L875.4,753.20 L876.6,752.91 L877.7,752.64 L878.8,752.37 L880.0,752.12 L881.1,751.88 L882.2,751.64 L883.4,751.40 L884.5,751.17 L885.7,750.93 L886.8,750.70 L887.9,750.47 L889.1,750.23 L890.2,749.99 L891.4,749.75 L892.5,749.51 L893.6,749.27 L894.8,749.02 L895.9,748.77 L897.1,748.51 L898.2,748.25 L899.3,747.99 L900.5,747.73 L901.6,747.46 L902.8,747.20 L903.9,746.93 L905.0,746.66 L906.2,746.40 L907.3,746.14 L908.5,745.89 L909.6,745.65 L910.7,745.41 L911.9,745.17 L913.0,744.94 L914.1,744.73 L915.3,744.57 L916.4,744.35 L917.6,744.14 L918.7,743.93 L919.8,743.73 L921.0,743.54 L922.1,743.35 L923.3,743.17 L924.4,742.99 L925.5,742.81 L926.7,742.64 L927.8,742.47 L929.0,742.30 L930.1,742.14 L931.2,741.98 L932.4,741.83 L933.5,741.68 L934.7,741.53 L935.8,741.39 L936.9,741.25 L938.1,741.11 L939.2,740.98 L940.4,740.85 L941.5,740.72 L942.6,740.59 L943.8,740.47 L944.9,740.35 L946.0,740.24 L947.2,740.12 L948.3,740.01 L949.5,739.91 L950.6,739.80 L951.7,739.70 L952.9,739.60 L954.0,739.50 L955.2,739.41 L956.3,739.31 L957.4,739.22 L958.6,739.13 L959.7,739.05 L960.9,738.97 L962.0,738.88 L963.1,738.80 L964.3,738.73 L965.4,738.65 L966.6,738.58 L967.7,738.51 L968.8,738.44 L970.0,738.37 L971.1,738.30 L972.2,738.23 L973.4,738.17 L974.5,738.11 L975.7,738.05 L976.8,737.99 L977.9,737.93 L978.9,737.88 L983.4,737.66 L988.0,737.45 L992.5,737.25 L997.1,737.06 L1001.6,736.89 L1006.2,736.73 L1010.7,736.60 L1015.3,736.49 L1019.9,736.40 L1024.4,736.34 L1029.0,736.29 L1033.5,736.26 L1038.1,736.23 L1042.6,736.21 L1047.2,736.19 L1051.8,736.17 L1056.3,736.15 L1060.9,736.13 L1065.4,736.12 L1070.0,736.10 L1074.5,736.09 L1079.1,736.08 L1083.7,736.07 L1088.2,736.06 L1092.8,736.05 L1097.3,736.05 L1101.9,736.04 L1106.4,736.04 L1111.0,736.04 L1115.6,736.04 L1120.1,736.04 L1124.7,736.04 L1129.2,736.04 L1133.8,736.04 L1138.3,736.04 L1142.9,736.04 L1147.5,736.04 L1152.0,736.04 L1156.6,736.04 L1161.1,736.04 L1165.7,736.04 L1170.2,736.04 L1174.8,736.04 L1179.4,736.04 L1183.9,736.04 L1188.5,736.04 L1193.0,736.04 L1197.6,736.04 L1202.1,736.04 L1206.7,736.04 L1211.3,736.04 L1215.8,736.04 L1220.4,736.04 L1224.9,736.04 L1229.5,736.04 L1234.0,736.04 L1238.6,736.04 L1243.2,736.04 L1247.7,736.04 L1252.3,736.04 L1256.8,736.04 L1261.4,736.04 L1265.9,736.04 L1270.5,736.04 L1275.1,736.04 L1279.6,736.04 L1284.2,736.04 L1288.7,736.04 L1293.3,736.04 L1297.8,736.04 L1302.4,736.04 L1307.0,736.04 L1311.5,736.04 L1316.1,736.04 L1320.6,736.04 L1325.2,736.04 L1329.7,736.04 L1334.3,736.04 L1338.9,736.04 L1343.4,736.04 L1348.0,736.04 L1352.5,736.04 L1357.1,736.04 L1361.6,736.04 L1366.2,736.04 L1370.8,736.04 L1375.3,736.04 L1379.9,736.04 L1384.4,736.04 L1389.0,736.04 L1393.5,736.04 L1398.1,736.04 L1402.7,736.04 L1407.2,736.04 L1411.8,736.04 L1416.3,736.04 L1420.9,736.04 L1425.4,736.04 L1430.0,736.04 L1434.6,736.04 L1439.1,736.04 L1443.7,736.04 L1448.2,736.04 L1452.8,736.04 L1457.3,736.04 L1461.9,736.04 L1466.4,736.04 L1471.0,736.04 L1475.6,736.04 L1480.1,736.04 L1484.7,736.04 L1489.2,736.04 L1493.8,736.04 L1498.3,736.04 L1502.9,736.04 L1507.5,736.04 L1512.0,736.04 L1516.6,736.04 L1521.1,736.04 L1525.7,736.04 L1530.2,736.04 L1534.8,736.04 L1539.4,736.04 L1543.9,736.04 L1548.5,736.04 L1553.0,736.04 L1557.6,736.04 L1562.1,736.04 L1565.5,736.04"/>
<path stroke="#ff0000" stroke-width="2.8" d="M712.5,2011.41 L713.6,1997.70 L714.8,1984.04 L715.9,1970.44 L717.1,1956.92 L718.2,1943.49 L719.3,1930.17 L720.5,1916.96 L721.6,1903.89 L722.8,1890.97 L723.9,1878.21 L725.0,1865.62 L726.2,1853.23 L727.3,1841.06 L728.4,1829.12 L729.6,1817.38 L730.7,1805.84 L731.9,1794.44 L733.0,1783.16 L734.1,1771.96 L735.3,1760.80 L736.4,1749.66 L737.6,1738.50 L738.7,1727.28 L739.8,1715.96 L741.0,1704.53 L742.1,1692.94 L743.3,1681.21 L744.4,1669.35 L745.5,1657.42 L746.7,1645.48 L747.8,1633.58 L749.0,1621.80 L750.1,1610.27 L751.2,1598.98 L752.4,1587.57 L753.5,1576.29 L754.7,1565.11 L755.8,1554.01 L756.9,1543.02 L758.1,1532.15 L759.2,1521.41 L760.3,1510.81 L761.5,1500.36 L762.6,1490.08 L763.8,1479.96 L764.9,1470.00 L766.0,1460.21 L767.2,1450.56 L768.3,1441.05 L769.5,1431.66 L770.6,1422.38 L771.7,1413.19 L772.9,1404.07 L774.0,1395.03 L775.2,1386.03 L776.3,1377.08 L777.4,1368.18 L778.6,1359.31 L779.7,1350.49 L780.9,1341.72 L782.0,1333.00 L783.1,1324.36 L784.3,1315.79 L785.4,1307.29 L786.6,1298.88 L787.7,1290.54 L788.8,1282.28 L790.0,1274.09 L791.1,1265.97 L792.2,1257.92 L793.4,1249.94 L794.5,1242.04 L795.7,1234.22 L796.8,1226.48 L797.9,1218.82 L799.1,1211.26 L800.2,1203.79 L801.4,1196.41 L802.5,1189.12 L803.6,1181.92 L804.8,1174.80 L805.9,1167.77 L807.1,1160.81 L808.2,1153.94 L809.3,1147.16 L810.5,1140.45 L811.6,1133.83 L812.8,1127.31 L813.9,1120.88 L815.0,1114.55 L816.2,1108.33 L817.3,1102.20 L818.5,1096.18 L819.6,1090.25 L820.7,1084.40 L821.9,1078.62 L823.0,1072.88 L824.1,1067.17 L825.3,1061.47 L826.4,1055.76 L827.6,1050.03 L828.7,1044.27 L829.8,1038.48 L831.0,1032.66 L832.1,1026.82 L833.3,1020.98 L834.4,1015.14 L835.5,1009.31 L836.7,1003.49 L837.8,997.70 L839.0,991.93 L840.1,986.19 L841.2,980.47 L842.4,974.78 L843.5,969.11 L844.7,963.47 L845.8,957.85 L846.9,952.27 L848.1,946.72 L849.2,941.21 L850.3,935.78 L851.5,930.58 L852.6,925.22 L853.8,919.93 L854.9,914.70 L856.0,909.55 L857.2,904.47 L858.3,899.47 L859.5,894.55 L860.6,889.72 L861.7,884.97 L862.9,880.32 L864.0,875.75 L865.2,871.27 L866.3,866.88 L867.4,862.57 L868.6,858.34 L869.7,854.18 L870.9,850.10 L872.0,846.08 L873.1,842.13 L874.3,838.25 L875.4,834.43 L876.6,830.67 L877.7,826.98 L878.8,823.35 L880.0,819.79 L881.1,816.30 L882.2,812.88 L883.4,809.52 L884.5,806.24 L885.7,803.03 L886.8,799.88 L887.9,796.80 L889.1,793.79 L890.2,790.83 L891.4,787.93 L892.5,785.07 L893.6,782.25 L894.8,779.46 L895.9,776.71 L897.1,773.97 L898.2,771.25 L899.3,768.54 L900.5,765.84 L901.6,763.14 L902.8,760.44 L903.9,757.74 L905.0,755.04 L906.2,752.35 L907.3,749.65 L908.5,746.99 L909.6,744.34 L910.7,741.70 L911.9,739.08 L913.0,736.47 L914.1,733.94 L915.3,731.65 L916.4,729.12 L917.6,726.63 L918.7,724.16 L919.8,721.72 L921.0,719.32 L922.1,716.94 L923.3,714.60 L924.4,712.29 L925.5,710.01 L926.7,707.76 L927.8,705.54 L929.0,703.34 L930.1,701.18 L931.2,699.05 L932.4,696.95 L933.5,694.88 L934.7,692.84 L935.8,690.83 L936.9,688.85 L938.1,686.90 L939.2,684.98 L940.4,683.09 L941.5,681.22 L942.6,679.39 L943.8,677.58 L944.9,675.81 L946.0,674.06 L947.2,672.34 L948.3,670.65 L949.5,668.99 L950.6,667.36 L951.7,665.76 L952.9,664.18 L954.0,662.63 L955.2,661.12 L956.3,659.63 L957.4,658.17 L958.6,656.74 L959.7,655.34 L960.9,653.96 L962.0,652.61 L963.1,651.29 L964.3,650.00 L965.4,648.73 L966.6,647.49 L967.7,646.26 L968.8,645.07 L970.0,643.89 L971.1,642.74 L972.2,641.61 L973.4,640.50 L974.5,639.41 L975.7,638.34 L976.8,637.30 L977.9,636.27 L978.9,635.47 L983.4,631.63 L988.0,628.11 L992.5,624.91 L997.1,622.04 L1001.6,619.49 L1006.2,617.23 L1010.7,615.25 L1015.3,613.53 L1019.9,612.05 L1024.4,610.79 L1029.0,609.73 L1033.5,608.88 L1038.1,608.22 L1042.6,607.75 L1047.2,607.46 L1051.8,607.35 L1056.3,607.42 L1060.9,607.65 L1065.4,608.05 L1070.0,608.60 L1074.5,609.30 L1079.1,610.13 L1083.7,611.10 L1088.2,612.19 L1092.8,613.41 L1097.3,614.72 L1101.9,616.11 L1106.4,617.56 L1111.0,619.07 L1115.6,620.61 L1120.1,622.21 L1124.7,623.88 L1129.2,625.65 L1133.8,627.52 L1138.3,629.51 L1142.9,631.58 L1147.5,633.72 L1152.0,635.88 L1156.6,638.05 L1161.1,640.21 L1165.7,642.35 L1170.2,644.49 L1174.8,646.62 L1179.4,648.76 L1183.9,650.91 L1188.5,653.07 L1193.0,655.22 L1197.6,657.35 L1202.1,659.45 L1206.7,661.49 L1211.3,663.48 L1215.8,665.40 L1220.4,667.26 L1224.9,669.05 L1229.5,670.77 L1234.0,672.42 L1238.6,674.01 L1243.2,675.52 L1247.7,676.95 L1252.3,678.30 L1256.8,679.55 L1261.4,680.71 L1265.9,681.76 L1270.5,682.70 L1275.1,683.50 L1279.6,684.17 L1284.2,684.70 L1288.7,685.08 L1293.3,685.31 L1297.8,685.38 L1302.4,685.29 L1307.0,685.05 L1311.5,684.67 L1316.1,684.15 L1320.6,683.50 L1325.2,682.72 L1329.7,681.83 L1334.3,680.83 L1338.9,679.74 L1343.4,678.55 L1348.0,677.27 L1352.5,675.92 L1357.1,674.49 L1361.6,672.99 L1366.2,671.43 L1370.8,669.81 L1375.3,668.15 L1379.9,666.45 L1384.4,664.73 L1389.0,663.00 L1393.5,661.27 L1398.1,659.53 L1402.7,657.81 L1407.2,656.09 L1411.8,654.40 L1416.3,652.72 L1420.9,651.07 L1425.4,649.46 L1430.0,647.89 L1434.6,646.37 L1439.1,644.90 L1443.7,643.50 L1448.2,642.16 L1452.8,640.90 L1457.3,639.72 L1461.9,638.63 L1466.4,637.63 L1471.0,636.73 L1475.6,635.91 L1480.1,635.19 L1484.7,634.55 L1489.2,634.00 L1493.8,633.53 L1498.3,633.14 L1502.9,632.82 L1507.5,632.58 L1512.0,632.41 L1516.6,632.30 L1521.1,632.26 L1525.7,632.26 L1530.2,632.31 L1534.8,632.39 L1539.4,632.52 L1543.9,632.68 L1548.5,632.89 L1553.0,633.15 L1557.6,633.46 L1562.1,633.91 L1565.5,634.28"/>
<path stroke="#7f00ff" stroke-width="2.8" d="M712.5,1803.34 L713.6,1785.40 L714.8,1767.63 L715.9,1750.07 L717.1,1732.74 L718.2,1715.68 L719.3,1698.94 L720.5,1682.55 L721.6,1666.52 L722.8,1650.77 L723.9,1635.17 L725.0,1619.57 L726.2,1603.81 L727.3,1587.83 L728.4,1571.63 L729.6,1555.29 L730.7,1538.96 L731.9,1522.80 L733.0,1506.95 L734.1,1491.54 L735.3,1476.62 L736.4,1462.19 L737.6,1448.14 L738.7,1434.42 L739.8,1420.96 L741.0,1407.71 L742.1,1394.61 L743.3,1381.62 L744.4,1368.69 L745.5,1355.84 L746.7,1343.07 L747.8,1330.46 L749.0,1318.08 L750.1,1306.09 L751.2,1294.49 L752.4,1282.72 L753.5,1271.16 L754.7,1259.75 L755.8,1248.46 L756.9,1237.32 L758.1,1226.34 L759.2,1215.50 L760.3,1204.81 L761.5,1194.27 L762.6,1183.88 L763.8,1173.63 L764.9,1163.55 L766.0,1153.64 L767.2,1143.92 L768.3,1134.41 L769.5,1125.14 L770.6,1116.11 L771.7,1107.32 L772.9,1098.77 L774.0,1090.44 L775.2,1082.26 L776.3,1074.18 L777.4,1066.15 L778.6,1058.12 L779.7,1050.05 L780.9,1041.92 L782.0,1033.74 L783.1,1025.54 L784.3,1017.36 L785.4,1009.25 L786.6,1001.24 L787.7,993.36 L788.8,985.60 L790.0,977.99 L791.1,970.53 L792.2,963.19 L793.4,955.99 L794.5,948.90 L795.7,941.93 L796.8,935.08 L797.9,928.32 L799.1,921.66 L800.2,915.05 L801.4,908.50 L802.5,901.98 L803.6,895.50 L804.8,889.09 L805.9,882.76 L807.1,876.55 L808.2,870.51 L809.3,864.68 L810.5,859.08 L811.6,853.71 L812.8,848.56 L813.9,843.64 L815.0,838.92 L816.2,834.38 L817.3,830.02 L818.5,825.82 L819.6,821.79 L820.7,817.93 L821.9,814.24 L823.0,810.71 L824.1,807.33 L825.3,804.08 L826.4,800.96 L827.6,797.94 L828.7,795.03 L829.8,792.23 L831.0,789.52 L832.1,786.90 L833.3,784.37 L834.4,781.93 L835.5,779.55 L836.7,777.23 L837.8,774.95 L839.0,772.70 L840.1,770.48 L841.2,768.28 L842.4,766.10 L843.5,763.93 L844.7,761.77 L845.8,759.62 L846.9,757.50 L848.1,755.48 L849.2,753.51 L850.3,751.68 L851.5,750.24 L852.6,748.48 L853.8,746.83 L854.9,745.27 L856.0,743.79 L857.2,742.41 L858.3,741.11 L859.5,739.86 L860.6,738.70 L861.7,737.60 L862.9,736.58 L864.0,735.62 L865.2,734.73 L866.3,733.89 L867.4,733.10 L868.6,732.36 L869.7,731.66 L870.9,731.01 L872.0,730.39 L873.1,729.81 L874.3,729.27 L875.4,728.76 L876.6,728.28 L877.7,727.84 L878.8,727.43 L880.0,727.06 L881.1,726.71 L882.2,726.40 L883.4,726.11 L884.5,725.86 L885.7,725.63 L886.8,725.43 L887.9,725.26 L889.1,725.11 L890.2,724.98 L891.4,724.87 L892.5,724.78 L893.6,724.71 L894.8,724.65 L895.9,724.61 L897.1,724.58 L898.2,724.57 L899.3,724.56 L900.5,724.57 L901.6,724.59 L902.8,724.61 L903.9,724.65 L905.0,724.69 L906.2,724.74 L907.3,724.81 L908.5,724.88 L909.6,724.97 L910.7,725.06 L911.9,725.16 L913.0,725.26 L914.1,725.39 L915.3,725.55 L916.4,725.66 L917.6,725.78 L918.7,725.90 L919.8,726.02 L921.0,726.15 L922.1,726.27 L923.3,726.40 L924.4,726.52 L925.5,726.65 L926.7,726.77 L927.8,726.89 L929.0,727.00 L930.1,727.11 L931.2,727.22 L932.4,727.33 L933.5,727.43 L934.7,727.52 L935.8,727.61 L936.9,727.70 L938.1,727.78 L939.2,727.86 L940.4,727.93 L941.5,728.00 L942.6,728.06 L943.8,728.12 L944.9,728.17 L946.0,728.22 L947.2,728.26 L948.3,728.31 L949.5,728.34 L950.6,728.38 L951.7,728.41 L952.9,728.44 L954.0,728.47 L955.2,728.49 L956.3,728.51 L957.4,728.53 L958.6,728.55 L959.7,728.57 L960.9,728.59 L962.0,728.60 L963.1,728.61 L964.3,728.62 L965.4,728.63 L966.6,728.64 L967.7,728.65 L968.8,728.66 L970.0,728.67 L971.1,728.67 L972.2,728.68 L973.4,728.68 L974.5,728.68 L975.7,728.69 L976.8,728.69 L977.9,728.69 L978.9,728.69 L983.4,728.70 L988.0,728.70 L992.5,728.70 L997.1,728.70 L1001.6,728.70 L1006.2,728.70 L1010.7,728.70 L1015.3,728.70 L1019.9,728.70 L1024.4,728.70 L1029.0,728.70 L1033.5,728.70 L1038.1,728.70 L1042.6,728.70 L1047.2,728.70 L1051.8,728.70 L1056.3,728.70 L1060.9,728.70 L1065.4,728.70 L1070.0,728.70 L1074.5,728.70 L1079.1,728.70 L1083.7,728.70 L1088.2,728.70 L1092.8,728.70 L1097.3,728.70 L1101.9,728.70 L1106.4,728.70 L1111.0,728.70 L1115.6,728.70 L1120.1,728.70 L1124.7,728.70 L1129.2,728.70 L1133.8,728.70 L1138.3,728.70 L1142.9,728.70 L1147.5,728.70 L1152.0,728.70 L1156.6,728.70 L1161.1,728.70 L1165.7,728.70 L1170.2,728.70 L1174.8,728.70 L1179.4,728.70 L1183.9,728.70 L1188.5,728.70 L1193.0,728.70 L1197.6,728.70 L1202.1,728.70 L1206.7,728.70 L1211.3,728.70 L1215.8,728.70 L1220.4,728.70 L1224.9,728.70 L1229.5,728.70 L1234.0,728.70 L1238.6,728.70 L1243.2,728.70 L1247.7,728.70 L1252.3,728.70 L1256.8,728.70 L1261.4,728.70 L1265.9,728.70 L1270.5,728.70 L1275.1,728.70 L1279.6,728.70 L1284.2,728.70 L1288.7,728.70 L1293.3,728.70 L1297.8,728.70 L1302.4,728.70 L1307.0,728.70 L1311.5,728.70 L1316.1,728.70 L1320.6,728.70 L1325.2,728.70 L1329.7,728.70 L1334.3,728.70 L1338.9,728.70 L1343.4,728.70 L1348.0,728.70 L1352.5,728.70 L1357.1,728.70 L1361.6,728.70 L1366.2,728.70 L1370.8,728.70 L1375.3,728.70 L1379.9,728.70 L1384.4,728.70 L1389.0,728.70 L1393.5,728.70 L1398.1,728.70 L1402.7,728.70 L1407.2,728.70 L1411.8,728.70 L1416.3,728.70 L1420.9,728.70 L1425.4,728.70 L1430.0,728.70 L1434.6,728.70 L1439.1,728.70 L1443.7,728.70 L1448.2,728.70 L1452.8,728.70 L1457.3,728.70 L1461.9,728.70 L1466.4,728.70 L1471.0,728.70 L1475.6,728.70 L1480.1,728.70 L1484.7,728.70 L1489.2,728.70 L1493.8,728.70 L1498.3,728.70 L1502.9,728.70 L1507.5,728.70 L1512.0,728.70 L1516.6,728.70 L1521.1,728.70 L1525.7,728.70 L1530.2,728.70 L1534.8,728.70 L1539.4,728.70 L1543.9,728.70 L1548.5,728.70 L1553.0,728.70 L1557.6,728.70 L1562.1,728.70 L1565.5,728.70"/>
</g>
<g font-size="24" text-anchor="middle">
<text transform="translate(751.9,1138.2) scale(1.13,1)">20</text>
<text transform="translate(843.0,1138.2) scale(1.13,1)">40</text>
<text transform="translate(934.2,1138.2) scale(1.13,1)">60</text>
<text transform="translate(1025.3,1138.2) scale(1.13,1)">80</text>
<text transform="translate(1116.5,1138.2) scale(1.13,1)">100</text>
<text transform="translate(1207.6,1138.2) scale(1.13,1)">120</text>
<text transform="translate(1298.7,1138.2) scale(1.13,1)">140</text>
<text transform="translate(1389.9,1138.2) scale(1.13,1)">160</text>
<text transform="translate(1481.0,1138.2) scale(1.13,1)">180</text>
</g>
<g font-size="24" text-anchor="end">
<text transform="translate(700.7,1114.2) scale(1.13,1)">8.0</text>
<text transform="translate(700.7,1021.3) scale(1.13,1)">8.5</text>
<text transform="translate(700.7,928.5) scale(1.13,1)">9.0</text>
<text transform="translate(700.7,835.6) scale(1.13,1)">9.5</text>
<text transform="translate(700.7,742.8) scale(1.15,1)">10.0</text>
<text transform="translate(700.7,649.9) scale(1.15,1)">10.5</text>
<text transform="translate(700.7,557.1) scale(1.15,1)">11.0</text>
</g>
</svg></body></html>
